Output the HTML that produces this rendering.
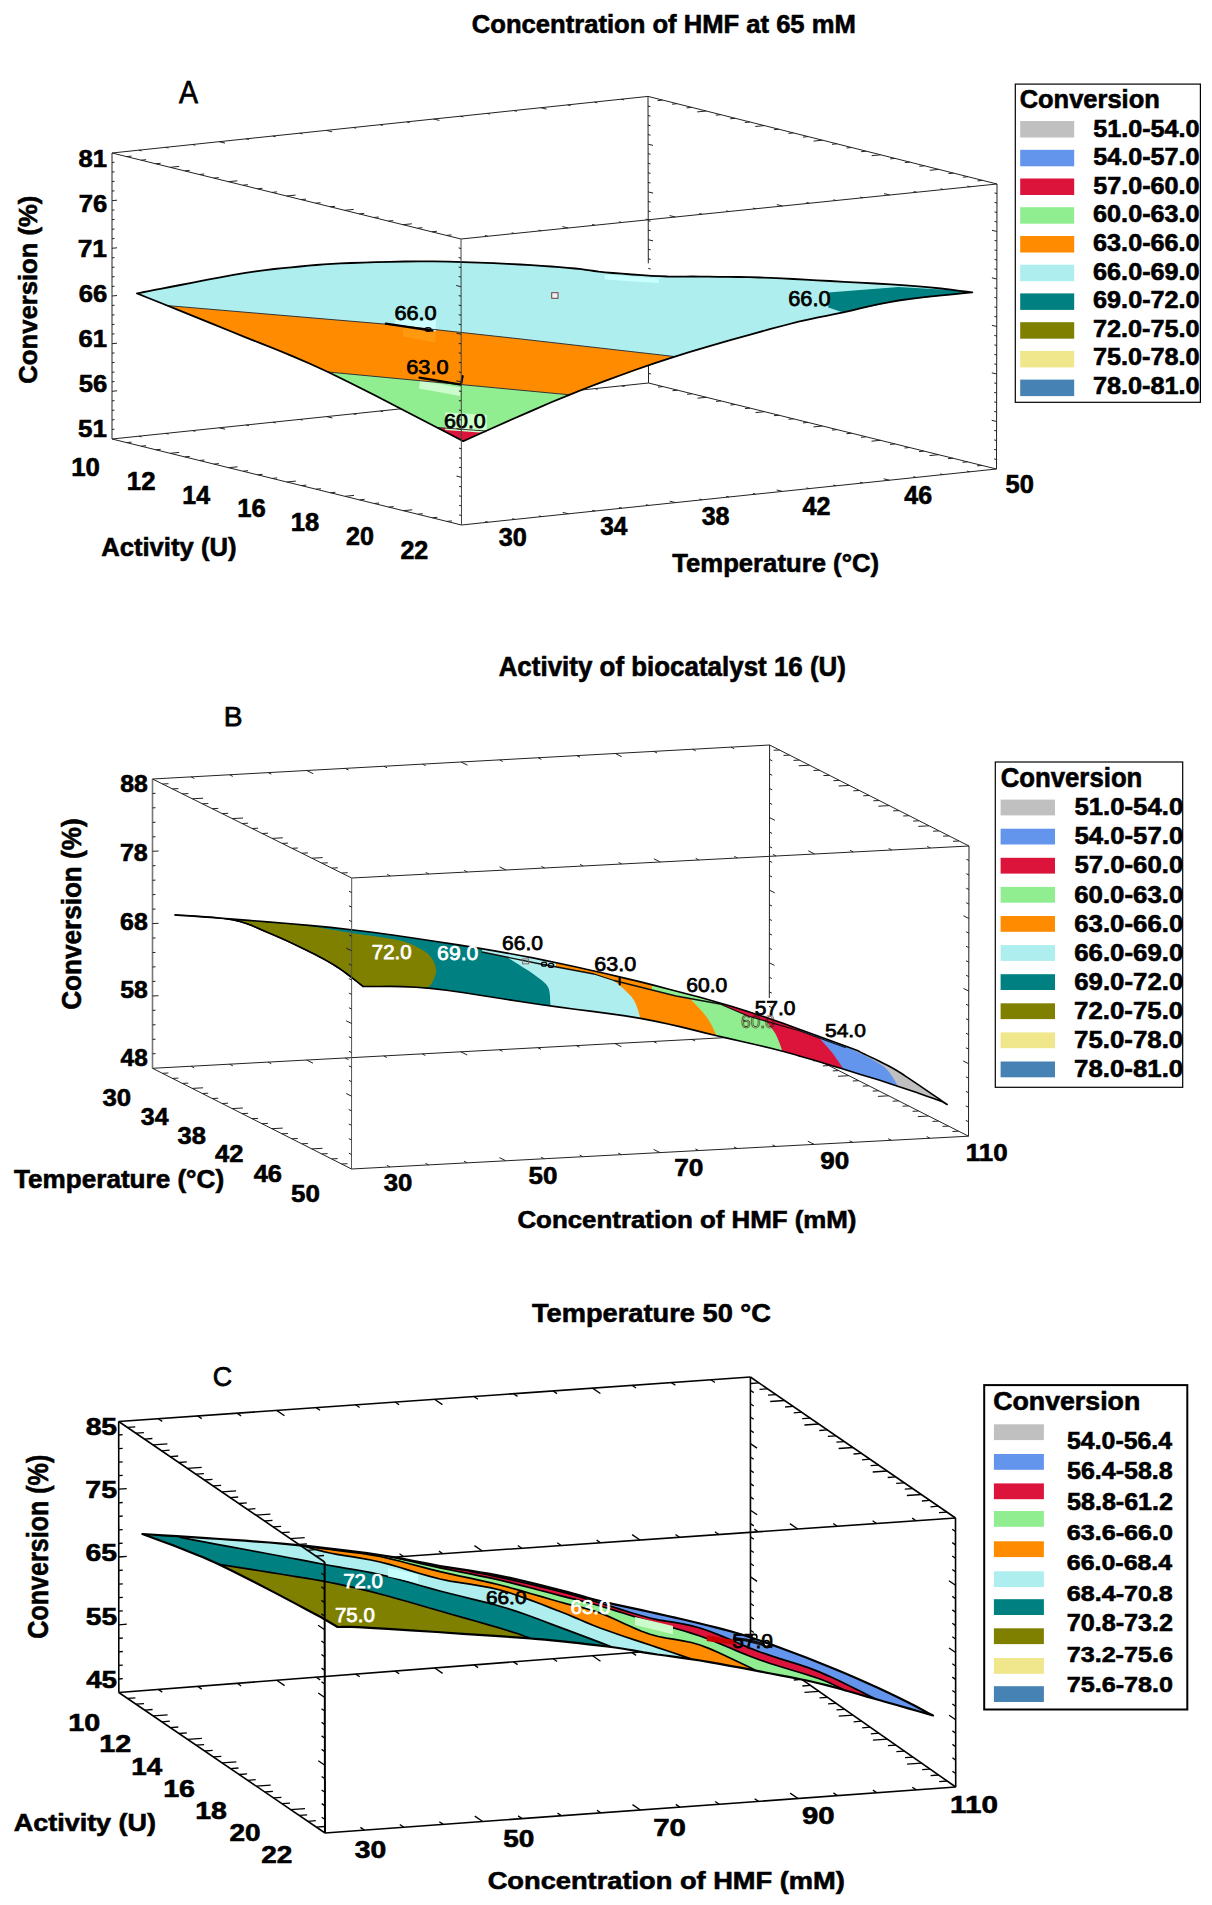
<!DOCTYPE html>
<html><head><meta charset="utf-8"><title>Conversion response surfaces</title>
<style>html,body{margin:0;padding:0;background:#fff;}svg{display:block;font-family:"Liberation Sans",sans-serif;}</style>
</head><body>
<svg width="1212" height="1905" viewBox="0 0 1212 1905">
<rect width="1212" height="1905" fill="#fff"/>
<line x1="112.0" y1="153.0" x2="648.0" y2="96.4" stroke="#222" stroke-width="1"/>
<line x1="648.0" y1="96.4" x2="997.0" y2="184.0" stroke="#222" stroke-width="1"/>
<line x1="112.0" y1="439.0" x2="648.5" y2="383.0" stroke="#222" stroke-width="1"/>
<line x1="648.5" y1="383.0" x2="996.5" y2="469.0" stroke="#222" stroke-width="1"/>
<line x1="648.0" y1="96.4" x2="648.3" y2="263.3" stroke="#222" stroke-width="1"/>
<line x1="648.4" y1="340.0" x2="648.5" y2="383.0" stroke="#222" stroke-width="1"/>
<line x1="112.0" y1="153.0" x2="112.0" y2="439.0" stroke="#222" stroke-width="1"/>
<line x1="997.0" y1="184.0" x2="996.5" y2="469.0" stroke="#222" stroke-width="1"/>
<path d="M662.5 100.1l-5.0 0.5M677.1 103.7l-5.0 0.5M691.6 107.4l-5.0 0.5M706.2 111.0l-9.0 0.9M720.7 114.7l-5.0 0.5M735.2 118.3l-5.0 0.5M749.8 122.0l-5.0 0.5M764.3 125.6l-9.0 0.9M778.9 129.2l-5.0 0.5M793.4 132.9l-5.0 0.5M808.0 136.6l-5.0 0.5M822.5 140.2l-9.0 0.9M837.0 143.8l-5.0 0.5M851.6 147.5l-5.0 0.5M866.1 151.2l-5.0 0.5M880.7 154.8l-9.0 0.9M895.2 158.4l-5.0 0.5M909.8 162.1l-5.0 0.5M924.3 165.8l-5.0 0.5M938.8 169.4l-9.0 0.9M953.4 173.1l-5.0 0.5M967.9 176.7l-5.0 0.5M982.5 180.4l-5.0 0.5" stroke="#222" stroke-width="1" fill="none"/>
<path d="M663.0 386.6l-5.0 0.5M677.5 390.2l-5.0 0.5M692.0 393.8l-5.0 0.5M706.5 397.3l-9.0 0.9M721.0 400.9l-5.0 0.5M735.5 404.5l-5.0 0.5M750.0 408.1l-5.0 0.5M764.5 411.7l-9.0 0.9M779.0 415.2l-5.0 0.5M793.5 418.8l-5.0 0.5M808.0 422.4l-5.0 0.5M822.5 426.0l-9.0 0.9M837.0 429.6l-5.0 0.5M851.5 433.2l-5.0 0.5M866.0 436.8l-5.0 0.5M880.5 440.3l-9.0 0.9M895.0 443.9l-5.0 0.5M909.5 447.5l-5.0 0.5M924.0 451.1l-5.0 0.5M938.5 454.7l-9.0 0.9M953.0 458.2l-5.0 0.5M967.5 461.8l-5.0 0.5M982.0 465.4l-5.0 0.5" stroke="#222" stroke-width="1" fill="none"/>
<path d="M138.8 150.2l2.9 0.7M165.6 147.3l2.9 0.7M192.4 144.5l2.9 0.7M219.2 141.7l5.8 1.4M246.0 138.8l2.9 0.7M272.8 136.0l2.9 0.7M299.6 133.2l2.9 0.7M326.4 130.4l5.8 1.4M353.2 127.5l2.9 0.7M380.0 124.7l2.9 0.7M406.8 121.9l2.9 0.7M433.6 119.0l5.8 1.4M460.4 116.2l2.9 0.7M487.2 113.4l2.9 0.7M514.0 110.6l2.9 0.7M540.8 107.7l5.8 1.4M567.6 104.9l2.9 0.7M594.4 102.1l2.9 0.7M621.2 99.2l2.9 0.7" stroke="#222" stroke-width="1" fill="none"/>
<path d="M138.8 436.2l2.9 0.7M165.7 433.4l2.9 0.7M192.5 430.6l2.9 0.7M219.3 427.8l5.8 1.4M246.1 425.0l2.9 0.7M272.9 422.2l2.9 0.7M299.8 419.4l2.9 0.7M326.6 416.6l5.8 1.4M353.4 413.8l2.9 0.7M380.2 411.0l2.9 0.7M407.1 408.2l2.9 0.7M433.9 405.4l5.8 1.4M460.7 402.6l2.9 0.7M487.5 399.8l2.9 0.7M514.4 397.0l2.9 0.7M541.2 394.2l5.8 1.4M568.0 391.4l2.9 0.7M594.9 388.6l2.9 0.7M621.7 385.8l2.9 0.7" stroke="#222" stroke-width="1" fill="none"/>
<path d="M648.0 106.0l2.4 0.6M648.0 115.5l2.4 0.6M648.0 125.1l2.4 0.6M648.1 134.6l2.4 0.6M648.1 144.2l4.9 1.2M648.1 153.7l2.4 0.6M648.1 163.3l2.4 0.6M648.1 172.8l2.4 0.6M648.1 182.4l2.4 0.6M648.2 191.9l4.9 1.2M648.2 201.5l2.4 0.6M648.2 211.0l2.4 0.6M648.2 220.6l2.4 0.6M648.2 230.1l2.4 0.6M648.2 239.7l4.9 1.2M648.3 249.3l2.4 0.6M648.3 258.8l2.4 0.6M648.3 268.4l2.4 0.6M648.3 277.9l2.4 0.6M648.3 287.5l4.9 1.2M648.4 297.0l2.4 0.6M648.4 306.6l2.4 0.6M648.4 316.1l2.4 0.6M648.4 325.7l2.4 0.6M648.4 335.2l4.9 1.2M648.4 344.8l2.4 0.6M648.5 354.3l2.4 0.6M648.5 363.9l2.4 0.6M648.5 373.4l2.4 0.6" stroke="#222" stroke-width="1" fill="none"/>
<path d="M112.0 162.5l2.5 -0.3M112.0 172.1l2.5 -0.3M112.0 181.6l2.5 -0.3M112.0 191.1l2.5 -0.3M112.0 200.7l5.0 -0.5M112.0 210.2l2.5 -0.3M112.0 219.7l2.5 -0.3M112.0 229.3l2.5 -0.3M112.0 238.8l2.5 -0.3M112.0 248.3l5.0 -0.5M112.0 257.9l2.5 -0.3M112.0 267.4l2.5 -0.3M112.0 276.9l2.5 -0.3M112.0 286.5l2.5 -0.3M112.0 296.0l5.0 -0.5M112.0 305.5l2.5 -0.3M112.0 315.1l2.5 -0.3M112.0 324.6l2.5 -0.3M112.0 334.1l2.5 -0.3M112.0 343.7l5.0 -0.5M112.0 353.2l2.5 -0.3M112.0 362.7l2.5 -0.3M112.0 372.3l2.5 -0.3M112.0 381.8l2.5 -0.3M112.0 391.3l5.0 -0.5M112.0 400.9l2.5 -0.3M112.0 410.4l2.5 -0.3M112.0 419.9l2.5 -0.3M112.0 429.5l2.5 -0.3" stroke="#222" stroke-width="1" fill="none"/>
<path d="M997.0 193.5l-2.4 -0.6M997.0 203.0l-2.4 -0.6M997.0 212.5l-2.4 -0.6M996.9 222.0l-2.4 -0.6M996.9 231.5l-4.9 -1.2M996.9 241.0l-2.4 -0.6M996.9 250.5l-2.4 -0.6M996.9 260.0l-2.4 -0.6M996.9 269.5l-2.4 -0.6M996.8 279.0l-4.9 -1.2M996.8 288.5l-2.4 -0.6M996.8 298.0l-2.4 -0.6M996.8 307.5l-2.4 -0.6M996.8 317.0l-2.4 -0.6M996.8 326.5l-4.9 -1.2M996.7 336.0l-2.4 -0.6M996.7 345.5l-2.4 -0.6M996.7 355.0l-2.4 -0.6M996.7 364.5l-2.4 -0.6M996.7 374.0l-4.9 -1.2M996.6 383.5l-2.4 -0.6M996.6 393.0l-2.4 -0.6M996.6 402.5l-2.4 -0.6M996.6 412.0l-2.4 -0.6M996.6 421.5l-4.9 -1.2M996.6 431.0l-2.4 -0.6M996.5 440.5l-2.4 -0.6M996.5 450.0l-2.4 -0.6M996.5 459.5l-2.4 -0.6" stroke="#222" stroke-width="1" fill="none"/>
<polygon points="137.0,293.4 140.1,292.8 144.0,292.0 148.8,291.1 154.6,289.9 161.7,288.6 170.0,287.0 180.4,285.0 192.8,282.6 206.4,279.9 220.2,277.3 233.5,274.9 245.4,272.9 255.7,271.4 265.3,270.1 274.2,269.0 282.8,268.1 291.3,267.3 300.0,266.5 308.3,265.7 316.1,265.0 323.8,264.4 331.8,263.9 340.7,263.4 351.0,263.0 362.9,262.6 376.0,262.2 390.0,261.8 404.5,261.5 419.2,261.4 433.5,261.4 448.0,261.6 463.2,262.1 478.5,262.6 493.4,263.2 507.4,263.9 520.0,264.5 531.3,265.1 541.6,265.8 551.0,266.5 559.7,267.1 567.6,267.8 575.0,268.5 581.2,269.1 585.9,269.8 590.0,270.4 594.1,271.0 598.8,271.7 605.0,272.3 612.9,273.0 622.0,273.7 631.9,274.5 641.9,275.2 651.4,275.8 660.0,276.2 667.3,276.5 673.7,276.6 679.7,276.6 685.7,276.6 692.3,276.5 700.0,276.6 708.7,276.7 718.1,276.8 728.1,276.9 738.5,277.0 749.2,277.2 760.0,277.5 770.9,277.9 781.9,278.4 793.2,279.0 804.9,279.6 817.2,280.3 830.0,281.0 844.1,281.8 859.4,282.6 875.2,283.5 890.8,284.4 905.5,285.3 918.4,286.3 930.0,287.3 940.9,288.5 950.9,289.7 959.6,290.8 966.8,291.7 972.3,292.4 972.3,292.4 964.1,293.2 952.5,294.4 938.9,295.7 924.5,297.2 910.7,298.8 898.6,300.5 888.3,302.3 878.9,304.2 869.9,306.2 861.1,308.2 852.3,310.3 843.2,312.4 834.4,314.2 826.3,315.8 818.2,317.4 809.2,319.3 798.6,321.7 785.7,325.0 769.7,329.2 751.2,334.3 731.1,339.9 710.4,345.8 690.0,351.9 671.0,357.8 653.4,363.6 636.3,369.5 619.7,375.5 603.1,381.6 586.4,388.0 569.4,394.8 550.7,402.5 530.4,411.3 509.9,420.3 490.9,428.8 474.8,436.0 463.2,441.2 448.1,433.3 426.8,422.2 401.7,409.2 375.3,395.5 349.9,382.7 328.0,372.0 309.5,363.5 292.4,356.1 276.4,349.5 260.9,343.4 245.6,337.3 230.0,331.0 213.1,324.1 195.2,316.8 177.4,309.6 160.9,303.0 147.1,297.5" fill="#afeeee" stroke="none" stroke-width="0" stroke-linejoin="round"/>
<polygon points="166.0,305.5 384.0,324.0 520.0,338.9 673.4,356.4 671.0,357.8 569.4,394.8 463.2,441.2 328.0,372.0 230.0,331.0" fill="#ff8c00" stroke="none" stroke-width="0" stroke-linejoin="round"/>
<polygon points="328.0,372.0 440.0,382.6 569.4,394.8 463.2,441.2" fill="#90ee90" stroke="none" stroke-width="0" stroke-linejoin="round"/>
<polygon points="437.0,427.5 486.0,431.0 463.2,441.2" fill="#dc143c" stroke="none" stroke-width="0" stroke-linejoin="round"/>
<polygon points="828.3,292.6 898.6,287.1 958.0,290.6 972.3,292.4 898.6,300.5 843.2,312.4 828.3,307.5" fill="#008080" stroke="none" stroke-width="0" stroke-linejoin="round"/>
<polygon points="395.2,319.5 435.8,319.5 435.8,331.5 395.2,325.2" fill="#ccffff" stroke="none" stroke-width="0" stroke-linejoin="round"/>
<polygon points="403.0,327.7 436.0,333.0 435.0,342.5 403.0,336.5" fill="#ff9a10" stroke="none" stroke-width="0" stroke-linejoin="round"/>
<polygon points="420.0,380.5 461.0,387.5 460.0,396.0 419.0,388.5" fill="#ccfccc" stroke="none" stroke-width="0" stroke-linejoin="round"/>
<polygon points="445.2,412.3 486.8,415.0 486.8,433.0 445.2,430.0" fill="#ccffcc" stroke="none" stroke-width="0" stroke-linejoin="round"/>
<polyline points="166.0,305.5 384.0,324.0 520.0,338.9 673.4,356.4" fill="none" stroke="#333" stroke-width="1" stroke-linejoin="round" stroke-linecap="round"/>
<polyline points="328.0,372.0 440.0,382.6 569.4,394.8" fill="none" stroke="#333" stroke-width="1" stroke-linejoin="round" stroke-linecap="round"/>
<polyline points="437.0,427.5 486.0,431.0" fill="none" stroke="#333" stroke-width="1" stroke-linejoin="round" stroke-linecap="round"/>
<polyline points="385.8,323.7 432.4,330.6" fill="none" stroke="#000" stroke-width="2.2" stroke-linejoin="round" stroke-linecap="round"/>
<ellipse cx="428" cy="329.5" rx="3" ry="1.8" fill="none" stroke="#000" stroke-width="1.2"/>
<polyline points="419.5,377.7 461.0,384.6 462.6,376.2" fill="none" stroke="#000" stroke-width="2.2" stroke-linejoin="round" stroke-linecap="round"/>
<polygon points="137.0,293.4 140.1,292.8 144.0,292.0 148.8,291.1 154.6,289.9 161.7,288.6 170.0,287.0 180.4,285.0 192.8,282.6 206.4,279.9 220.2,277.3 233.5,274.9 245.4,272.9 255.7,271.4 265.3,270.1 274.2,269.0 282.8,268.1 291.3,267.3 300.0,266.5 308.3,265.7 316.1,265.0 323.8,264.4 331.8,263.9 340.7,263.4 351.0,263.0 362.9,262.6 376.0,262.2 390.0,261.8 404.5,261.5 419.2,261.4 433.5,261.4 448.0,261.6 463.2,262.1 478.5,262.6 493.4,263.2 507.4,263.9 520.0,264.5 531.3,265.1 541.6,265.8 551.0,266.5 559.7,267.1 567.6,267.8 575.0,268.5 581.2,269.1 585.9,269.8 590.0,270.4 594.1,271.0 598.8,271.7 605.0,272.3 612.9,273.0 622.0,273.7 631.9,274.5 641.9,275.2 651.4,275.8 660.0,276.2 667.3,276.5 673.7,276.6 679.7,276.6 685.7,276.6 692.3,276.5 700.0,276.6 708.7,276.7 718.1,276.8 728.1,276.9 738.5,277.0 749.2,277.2 760.0,277.5 770.9,277.9 781.9,278.4 793.2,279.0 804.9,279.6 817.2,280.3 830.0,281.0 844.1,281.8 859.4,282.6 875.2,283.5 890.8,284.4 905.5,285.3 918.4,286.3 930.0,287.3 940.9,288.5 950.9,289.7 959.6,290.8 966.8,291.7 972.3,292.4 972.3,292.4 964.1,293.2 952.5,294.4 938.9,295.7 924.5,297.2 910.7,298.8 898.6,300.5 888.3,302.3 878.9,304.2 869.9,306.2 861.1,308.2 852.3,310.3 843.2,312.4 834.4,314.2 826.3,315.8 818.2,317.4 809.2,319.3 798.6,321.7 785.7,325.0 769.7,329.2 751.2,334.3 731.1,339.9 710.4,345.8 690.0,351.9 671.0,357.8 653.4,363.6 636.3,369.5 619.7,375.5 603.1,381.6 586.4,388.0 569.4,394.8 550.7,402.5 530.4,411.3 509.9,420.3 490.9,428.8 474.8,436.0 463.2,441.2 448.1,433.3 426.8,422.2 401.7,409.2 375.3,395.5 349.9,382.7 328.0,372.0 309.5,363.5 292.4,356.1 276.4,349.5 260.9,343.4 245.6,337.3 230.0,331.0 213.1,324.1 195.2,316.8 177.4,309.6 160.9,303.0 147.1,297.5" fill="none" stroke="#000" stroke-width="1.8" stroke-linejoin="round"/>
<rect x="551.7" y="292.7" width="6.3" height="5.6" fill="#e8f4f4" stroke="#7a3a3a" stroke-width="1"/>
<polygon points="604.7,274.4 658.8,278.5 658.8,283.0 604.7,279.5" fill="#c8ffff" stroke="none" stroke-width="0" stroke-linejoin="round"/>
<text x="394.40" y="319.50" font-size="19.48" font-weight="normal" fill="#000" textLength="42.25" lengthAdjust="spacingAndGlyphs" stroke="#000" stroke-width="0.75">66.0</text>
<text x="406.30" y="373.70" font-size="20.48" font-weight="normal" fill="#000" textLength="42.25" lengthAdjust="spacingAndGlyphs" stroke="#000" stroke-width="0.75">63.0</text>
<text x="444.11" y="428.20" font-size="19.91" font-weight="normal" fill="#000" textLength="41.62" lengthAdjust="spacingAndGlyphs" stroke="#000" stroke-width="0.75">60.0</text>
<text x="788.19" y="305.50" font-size="21.34" font-weight="normal" fill="#000" textLength="42.36" lengthAdjust="spacingAndGlyphs" stroke="#000" stroke-width="0.75">66.0</text>
<line x1="112.0" y1="153.0" x2="461.0" y2="239.0" stroke="#222" stroke-width="1"/>
<line x1="461.0" y1="239.0" x2="997.0" y2="184.0" stroke="#222" stroke-width="1"/>
<line x1="112.0" y1="439.0" x2="461.5" y2="525.0" stroke="#222" stroke-width="1"/>
<line x1="461.5" y1="525.0" x2="996.5" y2="469.0" stroke="#222" stroke-width="1"/>
<line x1="461.0" y1="239.0" x2="461.5" y2="525.0" stroke="#444" stroke-width="1"/>
<path d="M126.5 156.6l5.0 -0.5M141.1 160.2l5.0 -0.5M155.6 163.8l5.0 -0.5M170.2 167.3l9.0 -0.9M184.7 170.9l5.0 -0.5M199.2 174.5l5.0 -0.5M213.8 178.1l5.0 -0.5M228.3 181.7l9.0 -0.9M242.9 185.2l5.0 -0.5M257.4 188.8l5.0 -0.5M272.0 192.4l5.0 -0.5M286.5 196.0l9.0 -0.9M301.0 199.6l5.0 -0.5M315.6 203.2l5.0 -0.5M330.1 206.8l5.0 -0.5M344.7 210.3l9.0 -0.9M359.2 213.9l5.0 -0.5M373.8 217.5l5.0 -0.5M388.3 221.1l5.0 -0.5M402.8 224.7l9.0 -0.9M417.4 228.2l5.0 -0.5M431.9 231.8l5.0 -0.5M446.5 235.4l5.0 -0.5" stroke="#222" stroke-width="1" fill="none"/>
<path d="M126.6 442.6l5.0 -0.5M141.1 446.2l5.0 -0.5M155.7 449.8l5.0 -0.5M170.2 453.3l9.0 -0.9M184.8 456.9l5.0 -0.5M199.4 460.5l5.0 -0.5M213.9 464.1l5.0 -0.5M228.5 467.7l9.0 -0.9M243.1 471.2l5.0 -0.5M257.6 474.8l5.0 -0.5M272.2 478.4l5.0 -0.5M286.8 482.0l9.0 -0.9M301.3 485.6l5.0 -0.5M315.9 489.2l5.0 -0.5M330.4 492.8l5.0 -0.5M345.0 496.3l9.0 -0.9M359.6 499.9l5.0 -0.5M374.1 503.5l5.0 -0.5M388.7 507.1l5.0 -0.5M403.2 510.7l9.0 -0.9M417.8 514.2l5.0 -0.5M432.4 517.8l5.0 -0.5M446.9 521.4l5.0 -0.5" stroke="#222" stroke-width="1" fill="none"/>
<path d="M487.8 236.2l-2.9 -0.7M514.6 233.5l-2.9 -0.7M541.4 230.8l-2.9 -0.7M568.2 228.0l-5.8 -1.4M595.0 225.2l-2.9 -0.7M621.8 222.5l-2.9 -0.7M648.6 219.8l-2.9 -0.7M675.4 217.0l-5.8 -1.4M702.2 214.2l-2.9 -0.7M729.0 211.5l-2.9 -0.7M755.8 208.8l-2.9 -0.7M782.6 206.0l-5.8 -1.4M809.4 203.2l-2.9 -0.7M836.2 200.5l-2.9 -0.7M863.0 197.8l-2.9 -0.7M889.8 195.0l-5.8 -1.4M916.6 192.2l-2.9 -0.7M943.4 189.5l-2.9 -0.7M970.2 186.8l-2.9 -0.7" stroke="#222" stroke-width="1" fill="none"/>
<path d="M488.2 522.2l-2.9 -0.7M515.0 519.4l-2.9 -0.7M541.8 516.6l-2.9 -0.7M568.5 513.8l-5.8 -1.4M595.2 511.0l-2.9 -0.7M622.0 508.2l-2.9 -0.7M648.8 505.4l-2.9 -0.7M675.5 502.6l-5.8 -1.4M702.2 499.8l-2.9 -0.7M729.0 497.0l-2.9 -0.7M755.8 494.2l-2.9 -0.7M782.5 491.4l-5.8 -1.4M809.2 488.6l-2.9 -0.7M836.0 485.8l-2.9 -0.7M862.8 483.0l-2.9 -0.7M889.5 480.2l-5.8 -1.4M916.2 477.4l-2.9 -0.7M943.0 474.6l-2.9 -0.7M969.8 471.8l-2.9 -0.7" stroke="#222" stroke-width="1" fill="none"/>
<path d="M461.0 248.5l-2.4 -0.6M461.0 258.1l-2.4 -0.6M461.1 267.6l-2.4 -0.6M461.1 277.1l-2.4 -0.6M461.1 286.7l-4.9 -1.2M461.1 296.2l-2.4 -0.6M461.1 305.7l-2.4 -0.6M461.1 315.3l-2.4 -0.6M461.1 324.8l-2.4 -0.6M461.2 334.3l-4.9 -1.2M461.2 343.9l-2.4 -0.6M461.2 353.4l-2.4 -0.6M461.2 362.9l-2.4 -0.6M461.2 372.5l-2.4 -0.6M461.2 382.0l-4.9 -1.2M461.3 391.5l-2.4 -0.6M461.3 401.1l-2.4 -0.6M461.3 410.6l-2.4 -0.6M461.3 420.1l-2.4 -0.6M461.3 429.7l-4.9 -1.2M461.4 439.2l-2.4 -0.6M461.4 448.7l-2.4 -0.6M461.4 458.3l-2.4 -0.6M461.4 467.8l-2.4 -0.6M461.4 477.3l-4.9 -1.2M461.4 486.9l-2.4 -0.6M461.4 496.4l-2.4 -0.6M461.5 505.9l-2.4 -0.6M461.5 515.5l-2.4 -0.6" stroke="#222" stroke-width="1" fill="none"/>
<text x="471.85" y="32.70" font-size="25.58" font-weight="bold" fill="#000" textLength="383.96" lengthAdjust="spacingAndGlyphs" stroke="#000" stroke-width="0.60">Concentration of HMF at 65 mM</text>
<text x="179.04" y="102.60" font-size="31.69" font-weight="normal" fill="#000" textLength="19.01" lengthAdjust="spacingAndGlyphs" stroke="#000" stroke-width="0.75">A</text>
<text x="78.51" y="167.47" font-size="23.73" font-weight="bold" fill="#000" textLength="28.50" lengthAdjust="spacingAndGlyphs" stroke="#000" stroke-width="0.60">81</text>
<text x="78.72" y="212.27" font-size="23.73" font-weight="bold" fill="#000" textLength="28.50" lengthAdjust="spacingAndGlyphs" stroke="#000" stroke-width="0.60">76</text>
<text x="77.70" y="256.86" font-size="24.07" font-weight="bold" fill="#000" textLength="29.33" lengthAdjust="spacingAndGlyphs" stroke="#000" stroke-width="0.60">71</text>
<text x="78.72" y="301.77" font-size="23.73" font-weight="bold" fill="#000" textLength="28.50" lengthAdjust="spacingAndGlyphs" stroke="#000" stroke-width="0.60">66</text>
<text x="78.51" y="347.17" font-size="23.73" font-weight="bold" fill="#000" textLength="28.50" lengthAdjust="spacingAndGlyphs" stroke="#000" stroke-width="0.60">61</text>
<text x="78.72" y="391.67" font-size="23.73" font-weight="bold" fill="#000" textLength="28.50" lengthAdjust="spacingAndGlyphs" stroke="#000" stroke-width="0.60">56</text>
<text x="78.10" y="437.46" font-size="24.08" font-weight="bold" fill="#000" textLength="28.92" lengthAdjust="spacingAndGlyphs" stroke="#000" stroke-width="0.60">51</text>
<text x="71.28" y="476.36" font-size="24.86" font-weight="bold" fill="#000" textLength="28.68" lengthAdjust="spacingAndGlyphs" stroke="#000" stroke-width="0.60">10</text>
<text x="126.88" y="490.05" font-size="24.85" font-weight="bold" fill="#000" textLength="28.65" lengthAdjust="spacingAndGlyphs" stroke="#000" stroke-width="0.60">12</text>
<text x="182.33" y="503.95" font-size="25.22" font-weight="bold" fill="#000" textLength="27.70" lengthAdjust="spacingAndGlyphs" stroke="#000" stroke-width="0.60">14</text>
<text x="237.18" y="517.06" font-size="24.86" font-weight="bold" fill="#000" textLength="28.54" lengthAdjust="spacingAndGlyphs" stroke="#000" stroke-width="0.60">16</text>
<text x="290.79" y="531.16" font-size="24.86" font-weight="bold" fill="#000" textLength="28.39" lengthAdjust="spacingAndGlyphs" stroke="#000" stroke-width="0.60">18</text>
<text x="346.03" y="544.96" font-size="24.86" font-weight="bold" fill="#000" textLength="27.90" lengthAdjust="spacingAndGlyphs" stroke="#000" stroke-width="0.60">20</text>
<text x="400.43" y="559.35" font-size="24.85" font-weight="bold" fill="#000" textLength="27.87" lengthAdjust="spacingAndGlyphs" stroke="#000" stroke-width="0.60">22</text>
<text x="498.67" y="546.46" font-size="24.86" font-weight="bold" fill="#000" textLength="28.12" lengthAdjust="spacingAndGlyphs" stroke="#000" stroke-width="0.60">30</text>
<text x="600.19" y="535.36" font-size="24.86" font-weight="bold" fill="#000" textLength="27.19" lengthAdjust="spacingAndGlyphs" stroke="#000" stroke-width="0.60">34</text>
<text x="701.68" y="525.06" font-size="24.86" font-weight="bold" fill="#000" textLength="27.84" lengthAdjust="spacingAndGlyphs" stroke="#000" stroke-width="0.60">38</text>
<text x="802.57" y="514.55" font-size="24.85" font-weight="bold" fill="#000" textLength="27.88" lengthAdjust="spacingAndGlyphs" stroke="#000" stroke-width="0.60">42</text>
<text x="904.27" y="504.46" font-size="24.86" font-weight="bold" fill="#000" textLength="27.78" lengthAdjust="spacingAndGlyphs" stroke="#000" stroke-width="0.60">46</text>
<text x="1005.47" y="492.56" font-size="24.86" font-weight="bold" fill="#000" textLength="28.33" lengthAdjust="spacingAndGlyphs" stroke="#000" stroke-width="0.60">50</text>
<text x="101.16" y="556.22" font-size="26.39" font-weight="bold" fill="#000" textLength="135.32" lengthAdjust="spacingAndGlyphs" stroke="#000" stroke-width="0.60">Activity (U)</text>
<text x="672.21" y="572.17" font-size="26.18" font-weight="bold" fill="#000" textLength="206.85" lengthAdjust="spacingAndGlyphs" stroke="#000" stroke-width="0.60">Temperature (°C)</text>
<text x="0" y="0" stroke="#000" stroke-width="0.60" font-size="26.18" font-weight="bold" fill="#000" textLength="187.93" lengthAdjust="spacingAndGlyphs" transform="translate(36.57 383.65) rotate(-90)">Conversion (%)</text>
<rect x="1015.3" y="84.1" width="185.1" height="318.2" fill="#fff" stroke="#000" stroke-width="1.2"/>
<text x="1019.66" y="108.40" font-size="25.58" font-weight="bold" fill="#000" textLength="140.12" lengthAdjust="spacingAndGlyphs" stroke="#000" stroke-width="0.60">Conversion</text>
<rect x="1020.2" y="121.0" width="54.0" height="16.5" fill="#c0c0c0"/>
<rect x="1020.2" y="149.8" width="54.0" height="16.5" fill="#6495ed"/>
<rect x="1020.2" y="178.5" width="54.0" height="16.5" fill="#dc143c"/>
<rect x="1020.2" y="207.2" width="54.0" height="16.5" fill="#90ee90"/>
<rect x="1020.2" y="236.0" width="54.0" height="16.5" fill="#ff8c00"/>
<rect x="1020.2" y="264.7" width="54.0" height="16.5" fill="#afeeee"/>
<rect x="1020.2" y="293.4" width="54.0" height="16.5" fill="#008080"/>
<rect x="1020.2" y="322.2" width="54.0" height="16.5" fill="#808000"/>
<rect x="1020.2" y="350.9" width="54.0" height="16.5" fill="#f0e68c"/>
<rect x="1020.2" y="379.6" width="54.0" height="16.5" fill="#4682b4"/>
<text x="1093.23" y="136.50" font-size="23.92" font-weight="bold" fill="#000" textLength="106.41" lengthAdjust="spacingAndGlyphs" stroke="#000" stroke-width="0.60">51.0-54.0</text>
<text x="1093.23" y="165.10" font-size="23.92" font-weight="bold" fill="#000" textLength="106.41" lengthAdjust="spacingAndGlyphs" stroke="#000" stroke-width="0.60">54.0-57.0</text>
<text x="1093.23" y="193.70" font-size="23.92" font-weight="bold" fill="#000" textLength="106.41" lengthAdjust="spacingAndGlyphs" stroke="#000" stroke-width="0.60">57.0-60.0</text>
<text x="1093.08" y="222.30" font-size="23.92" font-weight="bold" fill="#000" textLength="106.56" lengthAdjust="spacingAndGlyphs" stroke="#000" stroke-width="0.60">60.0-63.0</text>
<text x="1093.08" y="250.90" font-size="23.92" font-weight="bold" fill="#000" textLength="106.56" lengthAdjust="spacingAndGlyphs" stroke="#000" stroke-width="0.60">63.0-66.0</text>
<text x="1093.08" y="279.50" font-size="23.92" font-weight="bold" fill="#000" textLength="106.56" lengthAdjust="spacingAndGlyphs" stroke="#000" stroke-width="0.60">66.0-69.0</text>
<text x="1093.08" y="308.10" font-size="23.92" font-weight="bold" fill="#000" textLength="106.56" lengthAdjust="spacingAndGlyphs" stroke="#000" stroke-width="0.60">69.0-72.0</text>
<text x="1092.91" y="336.70" font-size="23.92" font-weight="bold" fill="#000" textLength="106.72" lengthAdjust="spacingAndGlyphs" stroke="#000" stroke-width="0.60">72.0-75.0</text>
<text x="1092.91" y="365.30" font-size="23.92" font-weight="bold" fill="#000" textLength="106.72" lengthAdjust="spacingAndGlyphs" stroke="#000" stroke-width="0.60">75.0-78.0</text>
<text x="1092.91" y="393.90" font-size="23.92" font-weight="bold" fill="#000" textLength="106.72" lengthAdjust="spacingAndGlyphs" stroke="#000" stroke-width="0.60">78.0-81.0</text>
<line x1="152.5" y1="779.0" x2="769.6" y2="745.0" stroke="#222" stroke-width="1"/>
<line x1="769.6" y1="745.0" x2="969.0" y2="846.0" stroke="#222" stroke-width="1"/>
<line x1="152.5" y1="1068.3" x2="769.0" y2="1035.3" stroke="#222" stroke-width="1"/>
<line x1="769.0" y1="1035.3" x2="968.5" y2="1136.2" stroke="#222" stroke-width="1"/>
<line x1="769.6" y1="745.0" x2="769.3" y2="998.0" stroke="#222" stroke-width="1"/>
<line x1="152.5" y1="779.0" x2="152.5" y2="1068.3" stroke="#777" stroke-width="1.6"/>
<line x1="969.0" y1="846.0" x2="968.5" y2="1136.2" stroke="#222" stroke-width="1"/>
<path d="M779.6 750.0l-6.0 0.3M789.5 755.1l-6.0 0.3M799.5 760.1l-6.0 0.3M809.5 765.2l-10.8 0.6M819.5 770.2l-6.0 0.3M829.4 775.3l-6.0 0.3M839.4 780.4l-6.0 0.3M849.4 785.4l-10.8 0.6M859.3 790.5l-6.0 0.3M869.3 795.5l-6.0 0.3M879.3 800.5l-6.0 0.3M889.2 805.6l-10.8 0.6M899.2 810.6l-6.0 0.3M909.2 815.7l-6.0 0.3M919.1 820.8l-6.0 0.3M929.1 825.8l-10.8 0.6M939.1 830.9l-6.0 0.3M949.1 835.9l-6.0 0.3M959.0 841.0l-6.0 0.3" stroke="#222" stroke-width="1" fill="none"/>
<path d="M779.0 1040.3l-6.0 0.3M789.0 1045.4l-6.0 0.3M798.9 1050.4l-6.0 0.3M808.9 1055.5l-10.8 0.6M818.9 1060.5l-6.0 0.3M828.9 1065.6l-6.0 0.3M838.8 1070.6l-6.0 0.3M848.8 1075.7l-10.8 0.6M858.8 1080.7l-6.0 0.3M868.8 1085.8l-6.0 0.3M878.7 1090.8l-6.0 0.3M888.7 1095.8l-10.8 0.6M898.7 1100.9l-6.0 0.3M908.6 1105.9l-6.0 0.3M918.6 1111.0l-6.0 0.3M928.6 1116.0l-10.8 0.6M938.6 1121.1l-6.0 0.3M948.5 1126.1l-6.0 0.3M958.5 1131.2l-6.0 0.3" stroke="#222" stroke-width="1" fill="none"/>
<path d="M191.1 776.9l3.2 1.6M229.6 774.8l3.2 1.6M268.2 772.6l3.2 1.6M306.8 770.5l6.4 3.2M345.3 768.4l3.2 1.6M383.9 766.2l3.2 1.6M422.5 764.1l3.2 1.6M461.1 762.0l6.4 3.2M499.6 759.9l3.2 1.6M538.2 757.8l3.2 1.6M576.8 755.6l3.2 1.6M615.3 753.5l6.4 3.2M653.9 751.4l3.2 1.6M692.5 749.2l3.2 1.6M731.0 747.1l3.2 1.6" stroke="#222" stroke-width="1" fill="none"/>
<path d="M191.0 1066.2l3.2 1.6M229.6 1064.2l3.2 1.6M268.1 1062.1l3.2 1.6M306.6 1060.0l6.4 3.2M345.2 1058.0l3.2 1.6M383.7 1055.9l3.2 1.6M422.2 1053.9l3.2 1.6M460.8 1051.8l6.4 3.2M499.3 1049.7l3.2 1.6M537.8 1047.7l3.2 1.6M576.3 1045.6l3.2 1.6M614.9 1043.5l6.4 3.2M653.4 1041.5l3.2 1.6M691.9 1039.4l3.2 1.6M730.5 1037.4l3.2 1.6" stroke="#222" stroke-width="1" fill="none"/>
<path d="M769.6 759.5l2.7 1.3M769.5 774.0l2.7 1.3M769.5 788.5l2.7 1.3M769.5 803.1l2.7 1.3M769.5 817.6l5.4 2.7M769.4 832.1l2.7 1.3M769.4 846.6l2.7 1.3M769.4 861.1l2.7 1.3M769.3 875.6l2.7 1.3M769.3 890.1l5.4 2.7M769.3 904.7l2.7 1.3M769.2 919.2l2.7 1.3M769.2 933.7l2.7 1.3M769.2 948.2l2.7 1.3M769.1 962.7l5.4 2.7M769.1 977.2l2.7 1.3M769.1 991.8l2.7 1.3M769.1 1006.3l2.7 1.3M769.0 1020.8l2.7 1.3" stroke="#222" stroke-width="1" fill="none"/>
<path d="M152.5 793.5l3.0 -0.2M152.5 807.9l3.0 -0.2M152.5 822.4l3.0 -0.2M152.5 836.9l3.0 -0.2M152.5 851.3l6.0 -0.3M152.5 865.8l3.0 -0.2M152.5 880.3l3.0 -0.2M152.5 894.7l3.0 -0.2M152.5 909.2l3.0 -0.2M152.5 923.6l6.0 -0.3M152.5 938.1l3.0 -0.2M152.5 952.6l3.0 -0.2M152.5 967.0l3.0 -0.2M152.5 981.5l3.0 -0.2M152.5 996.0l6.0 -0.3M152.5 1010.4l3.0 -0.2M152.5 1024.9l3.0 -0.2M152.5 1039.4l3.0 -0.2M152.5 1053.8l3.0 -0.2" stroke="#222" stroke-width="1" fill="none"/>
<path d="M969.0 860.5l-2.7 -1.3M969.0 875.0l-2.7 -1.3M968.9 889.5l-2.7 -1.3M968.9 904.0l-2.7 -1.3M968.9 918.5l-5.4 -2.7M968.9 933.1l-2.7 -1.3M968.8 947.6l-2.7 -1.3M968.8 962.1l-2.7 -1.3M968.8 976.6l-2.7 -1.3M968.8 991.1l-5.4 -2.7M968.7 1005.6l-2.7 -1.3M968.7 1020.1l-2.7 -1.3M968.7 1034.6l-2.7 -1.3M968.6 1049.1l-2.7 -1.3M968.6 1063.7l-5.4 -2.7M968.6 1078.2l-2.7 -1.3M968.6 1092.7l-2.7 -1.3M968.5 1107.2l-2.7 -1.3M968.5 1121.7l-2.7 -1.3" stroke="#222" stroke-width="1" fill="none"/>
<polygon points="175.0,915.0 180.6,915.4 187.7,915.8 196.4,916.4 206.7,917.1 218.8,918.0 232.6,919.1 248.8,920.4 267.4,921.9 287.8,923.5 309.0,925.4 330.5,927.4 351.4,929.7 372.4,932.3 394.3,935.3 416.3,938.5 437.9,941.7 458.3,944.9 476.8,947.9 493.0,950.6 507.2,953.1 520.3,955.5 533.0,957.9 546.0,960.6 560.0,963.5 575.1,966.7 590.6,970.2 606.5,973.8 622.5,977.6 638.5,981.4 654.3,985.4 669.9,989.4 685.4,993.4 700.9,997.6 716.4,1001.9 732.1,1006.5 747.9,1011.4 764.8,1017.0 783.0,1023.3 801.3,1029.9 818.6,1036.2 833.6,1041.7 845.3,1046.0 852.7,1048.7 856.7,1050.2 858.5,1051.0 859.3,1051.5 860.5,1052.1 863.2,1053.5 867.6,1055.6 872.6,1057.9 877.9,1060.5 883.2,1063.2 888.3,1065.8 892.9,1068.3 896.7,1070.5 900.0,1072.5 903.1,1074.5 906.2,1076.6 909.6,1078.9 913.7,1081.7 918.9,1085.2 925.1,1089.4 931.7,1093.9 938.0,1098.2 943.3,1101.9 947.1,1104.5 941.7,1101.4 934.3,1098.8 925.5,1095.7 915.9,1092.3 906.1,1089.0 896.9,1085.9 888.0,1083.0 879.0,1080.1 869.8,1077.2 860.4,1074.4 851.0,1071.5 841.5,1068.6 832.0,1065.7 822.4,1062.8 812.7,1059.8 802.8,1056.9 792.8,1054.1 782.5,1051.3 772.0,1048.6 761.5,1046.0 750.7,1043.5 739.7,1041.0 728.3,1038.4 716.7,1035.7 704.9,1032.9 693.0,1029.9 680.8,1026.9 668.1,1024.0 654.7,1021.1 640.5,1018.4 625.3,1015.9 609.1,1013.6 592.3,1011.4 575.1,1009.2 557.5,1006.9 540.0,1004.5 521.8,1001.8 502.6,998.8 483.2,995.7 464.3,992.8 446.5,990.3 430.6,988.4 416.1,987.2 402.5,986.6 390.0,986.4 379.0,986.5 369.9,986.5 363.0,986.5 360.4,984.4 356.8,981.5 352.5,978.1 347.7,974.5 342.9,970.9 338.2,967.7 333.6,964.8 329.0,962.1 324.3,959.4 319.3,956.7 314.1,954.0 308.5,951.2 302.4,948.2 295.9,945.1 289.1,941.9 282.2,938.8 275.4,935.8 268.9,933.0 262.9,930.4 257.3,927.9 251.9,925.6 246.2,923.4 239.8,921.5 232.6,919.8 223.6,918.5 212.8,917.4 201.5,916.6 190.7,915.9 181.5,915.4" fill="#c0c0c0" stroke="none" stroke-width="0" stroke-linejoin="round"/>
<polygon points="175.0,915.0 180.6,915.4 187.7,915.8 196.4,916.4 206.7,917.1 218.8,918.0 232.6,919.1 248.8,920.4 267.4,921.9 287.8,923.5 309.0,925.4 330.5,927.4 351.4,929.7 372.4,932.3 394.3,935.3 416.3,938.5 437.9,941.7 458.3,944.9 476.8,947.9 493.0,950.6 507.2,953.1 520.3,955.5 533.0,957.9 546.0,960.6 560.0,963.5 575.1,966.7 590.6,970.2 606.5,973.8 622.5,977.6 638.5,981.4 654.3,985.4 669.9,989.4 685.4,993.4 700.9,997.6 716.4,1001.9 732.1,1006.5 747.9,1011.4 764.8,1017.0 783.0,1023.3 801.3,1029.9 818.6,1036.2 833.6,1041.7 845.3,1046.0 851.3,1049.0 855.1,1050.9 860.4,1053.5 866.7,1056.6 873.2,1060.0 879.2,1063.5 884.0,1066.8 887.7,1070.3 890.8,1074.3 893.4,1078.3 895.6,1082.1 897.4,1085.3 898.8,1087.6 896.9,1085.9 888.0,1083.0 879.0,1080.1 869.8,1077.2 860.4,1074.4 851.0,1071.5 841.5,1068.6 832.0,1065.7 822.4,1062.8 812.7,1059.8 802.8,1056.9 792.8,1054.1 782.5,1051.3 772.0,1048.6 761.5,1046.0 750.7,1043.5 739.7,1041.0 728.3,1038.4 716.7,1035.7 704.9,1032.9 693.0,1029.9 680.8,1026.9 668.1,1024.0 654.7,1021.1 640.5,1018.4 625.3,1015.9 609.1,1013.6 592.3,1011.4 575.1,1009.2 557.5,1006.9 540.0,1004.5 521.8,1001.8 502.6,998.8 483.2,995.7 464.3,992.8 446.5,990.3 430.6,988.4 416.1,987.2 402.5,986.6 390.0,986.4 379.0,986.5 369.9,986.5 363.0,986.5 360.4,984.4 356.8,981.5 352.5,978.1 347.7,974.5 342.9,970.9 338.2,967.7 333.6,964.8 329.0,962.1 324.3,959.4 319.3,956.7 314.1,954.0 308.5,951.2 302.4,948.2 295.9,945.1 289.1,941.9 282.2,938.8 275.4,935.8 268.9,933.0 262.9,930.4 257.3,927.9 251.9,925.6 246.2,923.4 239.8,921.5 232.6,919.8 223.6,918.5 212.8,917.4 201.5,916.6 190.7,915.9 181.5,915.4" fill="#6495ed" stroke="none" stroke-width="0" stroke-linejoin="round"/>
<polygon points="175.0,915.0 180.6,915.4 187.7,915.8 196.4,916.4 206.7,917.1 218.8,918.0 232.6,919.1 248.8,920.4 267.4,921.9 287.8,923.5 309.0,925.4 330.5,927.4 351.4,929.7 372.4,932.3 394.3,935.3 416.3,938.5 437.9,941.7 458.3,944.9 476.8,947.9 493.0,950.6 507.2,953.1 520.3,955.5 533.0,957.9 546.0,960.6 560.0,963.5 575.1,966.7 590.6,970.2 606.5,973.8 622.5,977.6 638.5,981.4 654.3,985.4 669.9,989.4 685.4,993.4 700.9,997.6 716.4,1001.9 732.1,1006.5 747.9,1011.4 764.8,1017.0 783.0,1023.3 801.3,1029.9 817.2,1035.7 818.7,1037.4 820.8,1039.7 823.3,1042.4 826.0,1045.4 828.6,1048.4 831.0,1051.3 833.3,1054.3 835.6,1057.6 838.0,1060.9 840.1,1064.1 841.9,1066.7 843.2,1068.6 841.5,1068.6 832.0,1065.7 822.4,1062.8 812.7,1059.8 802.8,1056.9 792.8,1054.1 782.5,1051.3 772.0,1048.6 761.5,1046.0 750.7,1043.5 739.7,1041.0 728.3,1038.4 716.7,1035.7 704.9,1032.9 693.0,1029.9 680.8,1026.9 668.1,1024.0 654.7,1021.1 640.5,1018.4 625.3,1015.9 609.1,1013.6 592.3,1011.4 575.1,1009.2 557.5,1006.9 540.0,1004.5 521.8,1001.8 502.6,998.8 483.2,995.7 464.3,992.8 446.5,990.3 430.6,988.4 416.1,987.2 402.5,986.6 390.0,986.4 379.0,986.5 369.9,986.5 363.0,986.5 360.4,984.4 356.8,981.5 352.5,978.1 347.7,974.5 342.9,970.9 338.2,967.7 333.6,964.8 329.0,962.1 324.3,959.4 319.3,956.7 314.1,954.0 308.5,951.2 302.4,948.2 295.9,945.1 289.1,941.9 282.2,938.8 275.4,935.8 268.9,933.0 262.9,930.4 257.3,927.9 251.9,925.6 246.2,923.4 239.8,921.5 232.6,919.8 223.6,918.5 212.8,917.4 201.5,916.6 190.7,915.9 181.5,915.4" fill="#dc143c" stroke="none" stroke-width="0" stroke-linejoin="round"/>
<polygon points="175.0,915.0 180.6,915.4 187.7,915.8 196.4,916.4 206.7,917.1 218.8,918.0 232.6,919.1 248.8,920.4 267.4,921.9 287.8,923.5 309.0,925.4 330.5,927.4 351.4,929.7 372.4,932.3 394.3,935.3 416.3,938.5 437.9,941.7 458.3,944.9 476.8,947.9 493.0,950.6 507.2,953.1 520.3,955.5 533.0,957.9 546.0,960.6 560.0,963.5 575.1,966.7 590.6,970.2 606.5,973.8 622.5,977.6 638.5,981.4 654.3,985.4 669.9,989.4 685.4,993.4 700.9,997.6 716.4,1001.9 732.1,1006.5 747.9,1011.4 761.8,1016.3 763.3,1018.1 765.4,1020.6 767.9,1023.5 770.5,1026.7 773.0,1029.9 775.0,1033.0 776.7,1036.2 778.2,1039.7 779.6,1043.2 780.8,1046.5 781.7,1049.3 782.5,1051.3 772.0,1048.6 761.5,1046.0 750.7,1043.5 739.7,1041.0 728.3,1038.4 716.7,1035.7 704.9,1032.9 693.0,1029.9 680.8,1026.9 668.1,1024.0 654.7,1021.1 640.5,1018.4 625.3,1015.9 609.1,1013.6 592.3,1011.4 575.1,1009.2 557.5,1006.9 540.0,1004.5 521.8,1001.8 502.6,998.8 483.2,995.7 464.3,992.8 446.5,990.3 430.6,988.4 416.1,987.2 402.5,986.6 390.0,986.4 379.0,986.5 369.9,986.5 363.0,986.5 360.4,984.4 356.8,981.5 352.5,978.1 347.7,974.5 342.9,970.9 338.2,967.7 333.6,964.8 329.0,962.1 324.3,959.4 319.3,956.7 314.1,954.0 308.5,951.2 302.4,948.2 295.9,945.1 289.1,941.9 282.2,938.8 275.4,935.8 268.9,933.0 262.9,930.4 257.3,927.9 251.9,925.6 246.2,923.4 239.8,921.5 232.6,919.8 223.6,918.5 212.8,917.4 201.5,916.6 190.7,915.9 181.5,915.4" fill="#90ee90" stroke="none" stroke-width="0" stroke-linejoin="round"/>
<polygon points="175.0,915.0 180.6,915.4 187.7,915.8 196.4,916.4 206.7,917.1 218.8,918.0 232.6,919.1 248.8,920.4 267.4,921.9 287.8,923.5 309.0,925.4 330.5,927.4 351.4,929.7 372.4,932.3 394.3,935.3 416.3,938.5 437.9,941.7 458.3,944.9 476.8,947.9 493.0,950.6 507.2,953.1 520.3,955.5 533.0,957.9 546.0,960.6 560.0,963.5 575.1,966.7 590.6,970.2 606.5,973.8 622.5,977.6 638.5,981.4 654.3,985.4 669.9,989.4 685.4,993.4 685.5,994.1 687.9,996.6 691.3,1000.1 695.3,1004.2 699.4,1008.5 703.2,1012.8 706.3,1016.6 708.8,1020.2 710.9,1023.9 712.8,1027.6 714.4,1030.9 715.7,1033.7 716.7,1035.7 704.9,1032.9 693.0,1029.9 680.8,1026.9 668.1,1024.0 654.7,1021.1 640.5,1018.4 625.3,1015.9 609.1,1013.6 592.3,1011.4 575.1,1009.2 557.5,1006.9 540.0,1004.5 521.8,1001.8 502.6,998.8 483.2,995.7 464.3,992.8 446.5,990.3 430.6,988.4 416.1,987.2 402.5,986.6 390.0,986.4 379.0,986.5 369.9,986.5 363.0,986.5 360.4,984.4 356.8,981.5 352.5,978.1 347.7,974.5 342.9,970.9 338.2,967.7 333.6,964.8 329.0,962.1 324.3,959.4 319.3,956.7 314.1,954.0 308.5,951.2 302.4,948.2 295.9,945.1 289.1,941.9 282.2,938.8 275.4,935.8 268.9,933.0 262.9,930.4 257.3,927.9 251.9,925.6 246.2,923.4 239.8,921.5 232.6,919.8 223.6,918.5 212.8,917.4 201.5,916.6 190.7,915.9 181.5,915.4" fill="#ff8c00" stroke="none" stroke-width="0" stroke-linejoin="round"/>
<polygon points="175.0,915.0 180.6,915.4 187.7,915.8 196.4,916.4 206.7,917.1 218.8,918.0 232.6,919.1 248.8,920.4 267.4,921.9 287.8,923.5 309.0,925.4 330.5,927.4 351.4,929.7 372.4,932.3 394.3,935.3 416.3,938.5 437.9,941.7 458.3,944.9 476.8,947.9 493.0,950.6 507.2,953.1 520.3,955.5 533.0,957.9 546.0,960.6 560.0,963.5 575.1,966.7 590.6,970.2 606.5,973.8 612.0,979.0 613.7,980.4 616.1,982.4 618.9,984.8 621.8,987.3 624.5,989.8 626.8,991.9 628.6,993.7 630.1,995.3 631.5,996.8 632.7,998.4 633.9,1000.2 635.0,1002.2 636.1,1004.7 637.2,1007.8 638.3,1010.9 639.2,1014.0 639.9,1016.6 640.5,1018.4 625.3,1015.9 609.1,1013.6 592.3,1011.4 575.1,1009.2 557.5,1006.9 540.0,1004.5 521.8,1001.8 502.6,998.8 483.2,995.7 464.3,992.8 446.5,990.3 430.6,988.4 416.1,987.2 402.5,986.6 390.0,986.4 379.0,986.5 369.9,986.5 363.0,986.5 360.4,984.4 356.8,981.5 352.5,978.1 347.7,974.5 342.9,970.9 338.2,967.7 333.6,964.8 329.0,962.1 324.3,959.4 319.3,956.7 314.1,954.0 308.5,951.2 302.4,948.2 295.9,945.1 289.1,941.9 282.2,938.8 275.4,935.8 268.9,933.0 262.9,930.4 257.3,927.9 251.9,925.6 246.2,923.4 239.8,921.5 232.6,919.8 223.6,918.5 212.8,917.4 201.5,916.6 190.7,915.9 181.5,915.4" fill="#afeeee" stroke="none" stroke-width="0" stroke-linejoin="round"/>
<polygon points="175.0,915.0 180.6,915.4 187.7,915.8 196.4,916.4 206.7,917.1 218.8,918.0 232.6,919.1 248.8,920.4 267.4,921.9 287.8,923.5 309.0,925.4 330.5,927.4 351.4,929.7 372.4,932.3 394.3,935.3 416.3,938.5 437.9,941.7 458.3,944.9 476.8,947.9 493.0,950.6 505.0,956.0 506.5,956.9 508.6,958.2 511.1,959.7 513.8,961.4 516.7,963.2 519.5,965.0 522.4,966.9 525.7,969.0 529.0,971.1 532.3,973.3 535.3,975.4 538.0,977.4 540.3,979.2 542.4,980.8 544.2,982.4 545.9,984.0 547.2,985.8 548.4,987.8 549.2,990.3 549.7,993.3 550.0,996.4 550.1,999.4 550.2,1002.1 550.4,1004.0 550.6,1005.2 550.7,1005.8 550.8,1006.0 550.9,1006.0 551.0,1005.9 551.0,1006.0 540.0,1004.5 521.8,1001.8 502.6,998.8 483.2,995.7 464.3,992.8 446.5,990.3 430.6,988.4 416.1,987.2 402.5,986.6 390.0,986.4 379.0,986.5 369.9,986.5 363.0,986.5 360.4,984.4 356.8,981.5 352.5,978.1 347.7,974.5 342.9,970.9 338.2,967.7 333.6,964.8 329.0,962.1 324.3,959.4 319.3,956.7 314.1,954.0 308.5,951.2 302.4,948.2 295.9,945.1 289.1,941.9 282.2,938.8 275.4,935.8 268.9,933.0 262.9,930.4 257.3,927.9 251.9,925.6 246.2,923.4 239.8,921.5 232.6,919.8 223.6,918.5 212.8,917.4 201.5,916.6 190.7,915.9 181.5,915.4" fill="#008080" stroke="none" stroke-width="0" stroke-linejoin="round"/>
<polygon points="232.6,919.8 240.1,920.3 250.7,921.0 263.1,921.9 276.2,922.9 288.9,923.9 300.0,925.0 309.6,926.2 318.6,927.5 327.2,928.9 335.4,930.3 343.5,931.7 351.4,933.0 359.4,934.2 367.4,935.3 375.2,936.3 382.5,937.4 389.2,938.4 395.0,939.5 399.8,940.5 403.6,941.5 406.8,942.5 409.6,943.6 412.2,944.7 415.0,946.0 417.9,947.4 420.7,949.0 423.4,950.6 425.9,952.3 428.1,954.1 430.0,956.0 431.6,958.0 433.0,960.2 434.1,962.5 435.0,964.9 435.6,967.1 436.0,969.3 436.0,971.4 435.7,973.5 435.2,975.6 434.5,977.5 433.7,979.4 433.0,981.0 432.2,982.5 431.3,983.8 430.3,985.0 429.4,986.0 428.6,986.9 428.0,987.5 363.0,986.5 360.4,984.4 356.8,981.5 352.5,978.1 347.7,974.5 342.9,970.9 338.2,967.7 333.6,964.8 329.0,962.1 324.3,959.4 319.3,956.7 314.1,954.0 308.5,951.2 302.4,948.2 295.9,945.1 289.1,941.9 282.2,938.8 275.4,935.8 268.9,933.0 262.9,930.4 257.3,927.9 251.9,925.6 246.2,923.4 239.8,921.5 232.6,919.8 223.6,918.5 212.8,917.4 201.5,916.6 190.7,915.9 181.5,915.4" fill="#808000" stroke="none" stroke-width="0" stroke-linejoin="round"/>
<polyline points="175.0,915.0 181.5,915.4 190.7,915.9 201.5,916.6 212.8,917.4 223.6,918.5 232.6,919.8 239.8,921.5 246.2,923.4 251.9,925.6 257.3,927.9 262.9,930.4 268.9,933.0 275.4,935.8 282.2,938.8 289.1,941.9 295.9,945.1 302.4,948.2 308.5,951.2 314.1,954.0 319.3,956.7 324.3,959.4 329.0,962.1 333.6,964.8 338.2,967.7 342.9,970.9 347.7,974.5 352.5,978.1 356.8,981.5 360.4,984.4 363.0,986.5" fill="none" stroke="#000" stroke-width="1.2" stroke-linejoin="round" stroke-linecap="round"/>
<polygon points="482.0,948.8 493.0,950.6 507.2,953.1 520.3,955.5 533.0,957.9 546.0,960.6 556.0,962.7 556.0,966.9 538.0,963.5 482.0,952.0" fill="#afeeee" stroke="none" stroke-width="0" stroke-linejoin="round"/>
<polygon points="556.0,962.7 560.0,963.5 575.1,966.7 590.6,970.2 606.5,973.8 622.5,977.6 638.5,981.4 652.0,984.8 652.0,990.0 614.0,980.5 594.0,974.0 556.0,966.9" fill="#ff8c00" stroke="none" stroke-width="0" stroke-linejoin="round"/>
<polygon points="652.0,984.8 654.3,985.4 669.9,989.4 685.4,993.4 700.9,997.6 716.4,1001.9 722.0,1003.6 722.0,1004.9 720.0,1004.0 676.0,996.0 652.0,990.0" fill="#90ee90" stroke="none" stroke-width="0" stroke-linejoin="round"/>
<polygon points="722.0,1003.6 732.1,1006.5 747.9,1011.4 764.8,1017.0 783.0,1023.3 800.0,1029.4 800.0,1031.0 748.0,1016.0 722.0,1004.9" fill="#dc143c" stroke="none" stroke-width="0" stroke-linejoin="round"/>
<polygon points="800.0,1029.4 801.3,1029.9 818.6,1036.2 833.6,1041.7 845.0,1045.9 845.0,1047.4 800.0,1031.0" fill="#6495ed" stroke="none" stroke-width="0" stroke-linejoin="round"/>
<polyline points="482.0,952.0 538.0,963.5 594.0,974.0 614.0,980.5 676.0,996.0 720.0,1004.0 748.0,1016.0 800.0,1031.0 845.3,1047.5" fill="none" stroke="#111" stroke-width="1.3" stroke-linejoin="round" stroke-linecap="round"/>
<polygon points="175.0,915.0 180.6,915.4 187.7,915.8 196.4,916.4 206.7,917.1 218.8,918.0 232.6,919.1 248.8,920.4 267.4,921.9 287.8,923.5 309.0,925.4 330.5,927.4 351.4,929.7 372.4,932.3 394.3,935.3 416.3,938.5 437.9,941.7 458.3,944.9 476.8,947.9 493.0,950.6 507.2,953.1 520.3,955.5 533.0,957.9 546.0,960.6 560.0,963.5 575.1,966.7 590.6,970.2 606.5,973.8 622.5,977.6 638.5,981.4 654.3,985.4 669.9,989.4 685.4,993.4 700.9,997.6 716.4,1001.9 732.1,1006.5 747.9,1011.4 764.8,1017.0 783.0,1023.3 801.3,1029.9 818.6,1036.2 833.6,1041.7 845.3,1046.0 852.7,1048.7 856.7,1050.2 858.5,1051.0 859.3,1051.5 860.5,1052.1 863.2,1053.5 867.6,1055.6 872.6,1057.9 877.9,1060.5 883.2,1063.2 888.3,1065.8 892.9,1068.3 896.7,1070.5 900.0,1072.5 903.1,1074.5 906.2,1076.6 909.6,1078.9 913.7,1081.7 918.9,1085.2 925.1,1089.4 931.7,1093.9 938.0,1098.2 943.3,1101.9 947.1,1104.5 941.7,1101.4 934.3,1098.8 925.5,1095.7 915.9,1092.3 906.1,1089.0 896.9,1085.9 888.0,1083.0 879.0,1080.1 869.8,1077.2 860.4,1074.4 851.0,1071.5 841.5,1068.6 832.0,1065.7 822.4,1062.8 812.7,1059.8 802.8,1056.9 792.8,1054.1 782.5,1051.3 772.0,1048.6 761.5,1046.0 750.7,1043.5 739.7,1041.0 728.3,1038.4 716.7,1035.7 704.9,1032.9 693.0,1029.9 680.8,1026.9 668.1,1024.0 654.7,1021.1 640.5,1018.4 625.3,1015.9 609.1,1013.6 592.3,1011.4 575.1,1009.2 557.5,1006.9 540.0,1004.5 521.8,1001.8 502.6,998.8 483.2,995.7 464.3,992.8 446.5,990.3 430.6,988.4 416.1,987.2 402.5,986.6 390.0,986.4 379.0,986.5 369.9,986.5 363.0,986.5 360.4,984.4 356.8,981.5 352.5,978.1 347.7,974.5 342.9,970.9 338.2,967.7 333.6,964.8 329.0,962.1 324.3,959.4 319.3,956.7 314.1,954.0 308.5,951.2 302.4,948.2 295.9,945.1 289.1,941.9 282.2,938.8 275.4,935.8 268.9,933.0 262.9,930.4 257.3,927.9 251.9,925.6 246.2,923.4 239.8,921.5 232.6,919.8 223.6,918.5 212.8,917.4 201.5,916.6 190.7,915.9 181.5,915.4" fill="none" stroke="#000" stroke-width="1.6" stroke-linejoin="round"/>
<rect x="522.6" y="958.9" width="6" height="5" fill="none" stroke="#8a5a5a" stroke-width="0.9"/>
<polyline points="619.6,978.4 619.8,984.5" fill="none" stroke="#000" stroke-width="2.2" stroke-linejoin="round" stroke-linecap="round"/>
<ellipse cx="544" cy="964.2" rx="2.6" ry="2" fill="none" stroke="#000" stroke-width="1.3"/>
<ellipse cx="551" cy="965.4" rx="2.6" ry="2" fill="none" stroke="#000" stroke-width="1.3"/>
<text x="371.85" y="959.40" font-size="19.91" font-weight="normal" fill="#fff" textLength="39.74" lengthAdjust="spacingAndGlyphs" stroke="#fff" stroke-width="0.75">72.0</text>
<text x="437.12" y="960.40" font-size="20.34" font-weight="normal" fill="#fff" textLength="41.20" lengthAdjust="spacingAndGlyphs" stroke="#fff" stroke-width="0.75">69.0</text>
<text x="502.13" y="950.20" font-size="19.91" font-weight="normal" fill="#000" textLength="40.89" lengthAdjust="spacingAndGlyphs" stroke="#000" stroke-width="0.75">66.0</text>
<text x="594.31" y="970.90" font-size="19.91" font-weight="normal" fill="#000" textLength="41.83" lengthAdjust="spacingAndGlyphs" stroke="#000" stroke-width="0.75">63.0</text>
<text x="686.23" y="992.40" font-size="19.91" font-weight="normal" fill="#000" textLength="40.99" lengthAdjust="spacingAndGlyphs" stroke="#000" stroke-width="0.75">60.0</text>
<text x="754.66" y="1014.90" font-size="19.91" font-weight="normal" fill="#000" textLength="40.86" lengthAdjust="spacingAndGlyphs" stroke="#000" stroke-width="0.75">57.0</text>
<text x="741.12" y="1028.30" font-size="18.05" font-weight="normal" fill="none" textLength="33.55" lengthAdjust="spacingAndGlyphs" stroke="#3a0a0a" stroke-width="0.6">60.0</text>
<text x="825.06" y="1037.40" font-size="18.90" font-weight="normal" fill="#000" textLength="40.76" lengthAdjust="spacingAndGlyphs" stroke="#000" stroke-width="0.75">54.0</text>
<line x1="152.5" y1="779.0" x2="351.7" y2="878.0" stroke="#222" stroke-width="1"/>
<line x1="351.7" y1="878.0" x2="969.0" y2="846.0" stroke="#222" stroke-width="1"/>
<line x1="152.5" y1="1068.3" x2="351.5" y2="1169.0" stroke="#222" stroke-width="1"/>
<line x1="351.5" y1="1169.0" x2="968.5" y2="1136.2" stroke="#222" stroke-width="1"/>
<line x1="351.7" y1="878.0" x2="351.5" y2="1169.0" stroke="#555" stroke-width="1"/>
<path d="M162.5 784.0l6.0 -0.3M172.4 788.9l6.0 -0.3M182.4 793.9l6.0 -0.3M192.3 798.8l10.8 -0.6M202.3 803.8l6.0 -0.3M212.3 808.7l6.0 -0.3M222.2 813.6l6.0 -0.3M232.2 818.6l10.8 -0.6M242.1 823.5l6.0 -0.3M252.1 828.5l6.0 -0.3M262.1 833.5l6.0 -0.3M272.0 838.4l10.8 -0.6M282.0 843.4l6.0 -0.3M291.9 848.3l6.0 -0.3M301.9 853.2l6.0 -0.3M311.9 858.2l10.8 -0.6M321.8 863.1l6.0 -0.3M331.8 868.1l6.0 -0.3M341.7 873.0l6.0 -0.3" stroke="#222" stroke-width="1" fill="none"/>
<path d="M162.4 1073.3l6.0 -0.3M172.4 1078.4l6.0 -0.3M182.3 1083.4l6.0 -0.3M192.3 1088.4l10.8 -0.6M202.2 1093.5l6.0 -0.3M212.2 1098.5l6.0 -0.3M222.1 1103.5l6.0 -0.3M232.1 1108.6l10.8 -0.6M242.1 1113.6l6.0 -0.3M252.0 1118.7l6.0 -0.3M261.9 1123.7l6.0 -0.3M271.9 1128.7l10.8 -0.6M281.9 1133.8l6.0 -0.3M291.8 1138.8l6.0 -0.3M301.8 1143.8l6.0 -0.3M311.7 1148.9l10.8 -0.6M321.6 1153.9l6.0 -0.3M331.6 1158.9l6.0 -0.3M341.5 1164.0l6.0 -0.3" stroke="#222" stroke-width="1" fill="none"/>
<path d="M390.3 876.0l-3.2 -1.6M428.9 874.0l-3.2 -1.6M467.4 872.0l-3.2 -1.6M506.0 870.0l-6.4 -3.2M544.6 868.0l-3.2 -1.6M583.2 866.0l-3.2 -1.6M621.8 864.0l-3.2 -1.6M660.3 862.0l-6.4 -3.2M698.9 860.0l-3.2 -1.6M737.5 858.0l-3.2 -1.6M776.1 856.0l-3.2 -1.6M814.7 854.0l-6.4 -3.2M853.3 852.0l-3.2 -1.6M891.8 850.0l-3.2 -1.6M930.4 848.0l-3.2 -1.6" stroke="#222" stroke-width="1" fill="none"/>
<path d="M390.1 1167.0l-3.2 -1.6M428.6 1164.9l-3.2 -1.6M467.2 1162.8l-3.2 -1.6M505.8 1160.8l-6.4 -3.2M544.3 1158.8l-3.2 -1.6M582.9 1156.7l-3.2 -1.6M621.4 1154.7l-3.2 -1.6M660.0 1152.6l-6.4 -3.2M698.6 1150.5l-3.2 -1.6M737.1 1148.5l-3.2 -1.6M775.7 1146.5l-3.2 -1.6M814.2 1144.4l-6.4 -3.2M852.8 1142.4l-3.2 -1.6M891.4 1140.3l-3.2 -1.6M929.9 1138.2l-3.2 -1.6" stroke="#222" stroke-width="1" fill="none"/>
<path d="M351.7 892.5l-2.7 -1.3M351.7 907.1l-2.7 -1.3M351.7 921.6l-2.7 -1.3M351.7 936.2l-2.7 -1.3M351.6 950.8l-5.4 -2.7M351.6 965.3l-2.7 -1.3M351.6 979.9l-2.7 -1.3M351.6 994.4l-2.7 -1.3M351.6 1009.0l-2.7 -1.3M351.6 1023.5l-5.4 -2.7M351.6 1038.0l-2.7 -1.3M351.6 1052.6l-2.7 -1.3M351.6 1067.2l-2.7 -1.3M351.6 1081.7l-2.7 -1.3M351.6 1096.2l-5.4 -2.7M351.5 1110.8l-2.7 -1.3M351.5 1125.3l-2.7 -1.3M351.5 1139.9l-2.7 -1.3M351.5 1154.5l-2.7 -1.3" stroke="#222" stroke-width="1" fill="none"/>
<text x="498.65" y="675.60" font-size="26.74" font-weight="bold" fill="#000" textLength="347.34" lengthAdjust="spacingAndGlyphs" stroke="#000" stroke-width="0.60">Activity of biocatalyst 16 (U)</text>
<text x="223.69" y="726.00" font-size="28.34" font-weight="normal" fill="#000" textLength="18.80" lengthAdjust="spacingAndGlyphs" stroke="#000" stroke-width="0.75">B</text>
<text x="120.21" y="792.22" font-size="23.30" font-weight="bold" fill="#000" textLength="27.55" lengthAdjust="spacingAndGlyphs" stroke="#000" stroke-width="0.60">88</text>
<text x="119.92" y="861.32" font-size="23.30" font-weight="bold" fill="#000" textLength="27.85" lengthAdjust="spacingAndGlyphs" stroke="#000" stroke-width="0.60">78</text>
<text x="120.09" y="930.22" font-size="23.30" font-weight="bold" fill="#000" textLength="27.68" lengthAdjust="spacingAndGlyphs" stroke="#000" stroke-width="0.60">68</text>
<text x="120.24" y="998.42" font-size="23.30" font-weight="bold" fill="#000" textLength="27.52" lengthAdjust="spacingAndGlyphs" stroke="#000" stroke-width="0.60">58</text>
<text x="120.63" y="1066.32" font-size="23.30" font-weight="bold" fill="#000" textLength="27.12" lengthAdjust="spacingAndGlyphs" stroke="#000" stroke-width="0.60">48</text>
<text x="102.51" y="1106.11" font-size="24.43" font-weight="bold" fill="#000" textLength="28.65" lengthAdjust="spacingAndGlyphs" stroke="#000" stroke-width="0.60">30</text>
<text x="140.83" y="1125.41" font-size="24.43" font-weight="bold" fill="#000" textLength="27.71" lengthAdjust="spacingAndGlyphs" stroke="#000" stroke-width="0.60">34</text>
<text x="177.51" y="1144.01" font-size="24.43" font-weight="bold" fill="#000" textLength="28.37" lengthAdjust="spacingAndGlyphs" stroke="#000" stroke-width="0.60">38</text>
<text x="215.11" y="1162.41" font-size="24.43" font-weight="bold" fill="#000" textLength="28.41" lengthAdjust="spacingAndGlyphs" stroke="#000" stroke-width="0.60">42</text>
<text x="253.71" y="1181.71" font-size="24.43" font-weight="bold" fill="#000" textLength="28.30" lengthAdjust="spacingAndGlyphs" stroke="#000" stroke-width="0.60">46</text>
<text x="291.00" y="1202.01" font-size="24.43" font-weight="bold" fill="#000" textLength="28.86" lengthAdjust="spacingAndGlyphs" stroke="#000" stroke-width="0.60">50</text>
<text x="383.71" y="1191.11" font-size="24.43" font-weight="bold" fill="#000" textLength="28.65" lengthAdjust="spacingAndGlyphs" stroke="#000" stroke-width="0.60">30</text>
<text x="528.60" y="1184.41" font-size="24.43" font-weight="bold" fill="#000" textLength="28.86" lengthAdjust="spacingAndGlyphs" stroke="#000" stroke-width="0.60">50</text>
<text x="674.17" y="1176.41" font-size="24.43" font-weight="bold" fill="#000" textLength="29.21" lengthAdjust="spacingAndGlyphs" stroke="#000" stroke-width="0.60">70</text>
<text x="820.30" y="1169.41" font-size="24.43" font-weight="bold" fill="#000" textLength="28.97" lengthAdjust="spacingAndGlyphs" stroke="#000" stroke-width="0.60">90</text>
<text x="965.77" y="1160.91" font-size="24.43" font-weight="bold" fill="#000" textLength="41.91" lengthAdjust="spacingAndGlyphs" stroke="#000" stroke-width="0.60">110</text>
<text x="14.11" y="1188.47" font-size="25.21" font-weight="bold" fill="#000" textLength="209.98" lengthAdjust="spacingAndGlyphs" stroke="#000" stroke-width="0.60">Temperature (°C)</text>
<text x="517.44" y="1228.21" font-size="24.03" font-weight="bold" fill="#000" textLength="339.05" lengthAdjust="spacingAndGlyphs" stroke="#000" stroke-width="0.60">Concentration of HMF (mM)</text>
<text x="0" y="0" stroke="#000" stroke-width="0.60" font-size="27.14" font-weight="bold" fill="#000" textLength="191.37" lengthAdjust="spacingAndGlyphs" transform="translate(81.47 1009.77) rotate(-90)">Conversion (%)</text>
<rect x="995.3" y="762.0" width="187.4" height="325.3" fill="#fff" stroke="#000" stroke-width="1.2"/>
<text x="1000.64" y="786.80" font-size="26.74" font-weight="bold" fill="#000" textLength="141.75" lengthAdjust="spacingAndGlyphs" stroke="#000" stroke-width="0.60">Conversion</text>
<rect x="1000.6" y="799.6" width="54.4" height="15.8" fill="#c0c0c0"/>
<rect x="1000.6" y="828.7" width="54.4" height="15.8" fill="#6495ed"/>
<rect x="1000.6" y="857.8" width="54.4" height="15.8" fill="#dc143c"/>
<rect x="1000.6" y="886.9" width="54.4" height="15.8" fill="#90ee90"/>
<rect x="1000.6" y="916.0" width="54.4" height="15.8" fill="#ff8c00"/>
<rect x="1000.6" y="945.1" width="54.4" height="15.8" fill="#afeeee"/>
<rect x="1000.6" y="974.2" width="54.4" height="15.8" fill="#008080"/>
<rect x="1000.6" y="1003.3" width="54.4" height="15.8" fill="#808000"/>
<rect x="1000.6" y="1032.4" width="54.4" height="15.8" fill="#f0e68c"/>
<rect x="1000.6" y="1061.5" width="54.4" height="15.8" fill="#4682b4"/>
<text x="1074.41" y="815.20" font-size="23.63" font-weight="bold" fill="#000" textLength="108.85" lengthAdjust="spacingAndGlyphs" stroke="#000" stroke-width="0.60">51.0-54.0</text>
<text x="1074.41" y="844.30" font-size="23.63" font-weight="bold" fill="#000" textLength="108.85" lengthAdjust="spacingAndGlyphs" stroke="#000" stroke-width="0.60">54.0-57.0</text>
<text x="1074.41" y="873.40" font-size="23.63" font-weight="bold" fill="#000" textLength="108.85" lengthAdjust="spacingAndGlyphs" stroke="#000" stroke-width="0.60">57.0-60.0</text>
<text x="1074.26" y="902.50" font-size="23.63" font-weight="bold" fill="#000" textLength="109.00" lengthAdjust="spacingAndGlyphs" stroke="#000" stroke-width="0.60">60.0-63.0</text>
<text x="1074.26" y="931.60" font-size="23.63" font-weight="bold" fill="#000" textLength="109.00" lengthAdjust="spacingAndGlyphs" stroke="#000" stroke-width="0.60">63.0-66.0</text>
<text x="1074.26" y="960.70" font-size="23.63" font-weight="bold" fill="#000" textLength="109.00" lengthAdjust="spacingAndGlyphs" stroke="#000" stroke-width="0.60">66.0-69.0</text>
<text x="1074.26" y="989.80" font-size="23.63" font-weight="bold" fill="#000" textLength="109.00" lengthAdjust="spacingAndGlyphs" stroke="#000" stroke-width="0.60">69.0-72.0</text>
<text x="1074.09" y="1018.90" font-size="23.63" font-weight="bold" fill="#000" textLength="109.17" lengthAdjust="spacingAndGlyphs" stroke="#000" stroke-width="0.60">72.0-75.0</text>
<text x="1074.09" y="1048.00" font-size="23.63" font-weight="bold" fill="#000" textLength="109.17" lengthAdjust="spacingAndGlyphs" stroke="#000" stroke-width="0.60">75.0-78.0</text>
<text x="1074.09" y="1077.10" font-size="23.63" font-weight="bold" fill="#000" textLength="109.17" lengthAdjust="spacingAndGlyphs" stroke="#000" stroke-width="0.60">78.0-81.0</text>
<line x1="118.7" y1="1421.5" x2="750.4" y2="1377.0" stroke="#000" stroke-width="1.6"/>
<line x1="750.4" y1="1377.0" x2="955.5" y2="1518.0" stroke="#000" stroke-width="1.6"/>
<line x1="118.8" y1="1692.5" x2="750.5" y2="1643.5" stroke="#000" stroke-width="1.6"/>
<line x1="750.5" y1="1643.5" x2="955.7" y2="1787.0" stroke="#000" stroke-width="1.6"/>
<line x1="750.4" y1="1377.0" x2="750.5" y2="1643.5" stroke="#000" stroke-width="1.6"/>
<line x1="118.7" y1="1421.5" x2="118.8" y2="1692.5" stroke="#000" stroke-width="1.6"/>
<line x1="955.5" y1="1518.0" x2="955.7" y2="1787.0" stroke="#000" stroke-width="1.6"/>
<path d="M758.9 1382.9l-8.0 0.6M767.5 1388.8l-8.0 0.6M776.0 1394.6l-8.0 0.6M784.6 1400.5l-14.4 1.0M793.1 1406.4l-8.0 0.6M801.7 1412.2l-8.0 0.6M810.2 1418.1l-8.0 0.6M818.8 1424.0l-14.4 1.0M827.3 1429.9l-8.0 0.6M835.9 1435.8l-8.0 0.6M844.4 1441.6l-8.0 0.6M853.0 1447.5l-14.4 1.0M861.5 1453.4l-8.0 0.6M870.0 1459.2l-8.0 0.6M878.6 1465.1l-8.0 0.6M887.1 1471.0l-14.4 1.0M895.7 1476.9l-8.0 0.6M904.2 1482.8l-8.0 0.6M912.8 1488.6l-8.0 0.6M921.3 1494.5l-14.4 1.0M929.9 1500.4l-8.0 0.6M938.4 1506.2l-8.0 0.6M947.0 1512.1l-8.0 0.6" stroke="#000" stroke-width="1.3" fill="none"/>
<path d="M759.0 1649.5l-8.0 0.6M767.6 1655.5l-8.0 0.6M776.1 1661.4l-8.0 0.6M784.7 1667.4l-14.4 1.0M793.2 1673.4l-8.0 0.6M801.8 1679.4l-8.0 0.6M810.4 1685.4l-8.0 0.6M818.9 1691.3l-14.4 1.0M827.5 1697.3l-8.0 0.6M836.0 1703.3l-8.0 0.6M844.5 1709.3l-8.0 0.6M853.1 1715.2l-14.4 1.0M861.6 1721.2l-8.0 0.6M870.2 1727.2l-8.0 0.6M878.8 1733.2l-8.0 0.6M887.3 1739.2l-14.4 1.0M895.9 1745.1l-8.0 0.6M904.4 1751.1l-8.0 0.6M913.0 1757.1l-8.0 0.6M921.5 1763.1l-14.4 1.0M930.1 1769.1l-8.0 0.6M938.6 1775.0l-8.0 0.6M947.2 1781.0l-8.0 0.6" stroke="#000" stroke-width="1.3" fill="none"/>
<path d="M158.2 1418.7l4.0 2.7M197.7 1415.9l4.0 2.7M237.1 1413.2l4.0 2.7M276.6 1410.4l7.9 5.4M316.1 1407.6l4.0 2.7M355.6 1404.8l4.0 2.7M395.1 1402.0l4.0 2.7M434.5 1399.2l7.9 5.4M474.0 1396.5l4.0 2.7M513.5 1393.7l4.0 2.7M553.0 1390.9l4.0 2.7M592.5 1388.1l7.9 5.4M632.0 1385.3l4.0 2.7M671.4 1382.6l4.0 2.7M710.9 1379.8l4.0 2.7" stroke="#000" stroke-width="1.3" fill="none"/>
<path d="M158.3 1689.4l4.0 2.7M197.8 1686.4l4.0 2.7M237.2 1683.3l4.0 2.7M276.7 1680.2l7.9 5.4M316.2 1677.2l4.0 2.7M355.7 1674.1l4.0 2.7M395.2 1671.1l4.0 2.7M434.7 1668.0l7.9 5.4M474.1 1664.9l4.0 2.7M513.6 1661.9l4.0 2.7M553.1 1658.8l4.0 2.7M592.6 1655.8l7.9 5.4M632.1 1652.7l4.0 2.7M671.5 1649.6l4.0 2.7M711.0 1646.6l4.0 2.7" stroke="#000" stroke-width="1.3" fill="none"/>
<path d="M750.4 1390.3l3.3 2.3M750.4 1403.7l3.3 2.3M750.4 1417.0l3.3 2.3M750.4 1430.3l3.3 2.3M750.4 1443.6l6.6 4.5M750.4 1457.0l3.3 2.3M750.4 1470.3l3.3 2.3M750.4 1483.6l3.3 2.3M750.4 1496.9l3.3 2.3M750.5 1510.2l6.6 4.5M750.5 1523.6l3.3 2.3M750.5 1536.9l3.3 2.3M750.5 1550.2l3.3 2.3M750.5 1563.5l3.3 2.3M750.5 1576.9l6.6 4.5M750.5 1590.2l3.3 2.3M750.5 1603.5l3.3 2.3M750.5 1616.8l3.3 2.3M750.5 1630.2l3.3 2.3" stroke="#000" stroke-width="1.3" fill="none"/>
<path d="M118.7 1435.0l4.0 -0.3M118.7 1448.6l4.0 -0.3M118.7 1462.2l4.0 -0.3M118.7 1475.7l4.0 -0.3M118.7 1489.2l8.0 -0.6M118.7 1502.8l4.0 -0.3M118.7 1516.3l4.0 -0.3M118.7 1529.9l4.0 -0.3M118.7 1543.5l4.0 -0.3M118.8 1557.0l8.0 -0.6M118.8 1570.5l4.0 -0.3M118.8 1584.1l4.0 -0.3M118.8 1597.7l4.0 -0.3M118.8 1611.2l4.0 -0.3M118.8 1624.8l8.0 -0.6M118.8 1638.3l4.0 -0.3M118.8 1651.8l4.0 -0.3M118.8 1665.4l4.0 -0.3M118.8 1679.0l4.0 -0.3" stroke="#000" stroke-width="1.3" fill="none"/>
<path d="M955.5 1531.5l-3.3 -2.3M955.5 1544.9l-3.3 -2.3M955.5 1558.3l-3.3 -2.3M955.5 1571.8l-3.3 -2.3M955.5 1585.2l-6.6 -4.5M955.6 1598.7l-3.3 -2.3M955.6 1612.2l-3.3 -2.3M955.6 1625.6l-3.3 -2.3M955.6 1639.0l-3.3 -2.3M955.6 1652.5l-6.6 -4.5M955.6 1666.0l-3.3 -2.3M955.6 1679.4l-3.3 -2.3M955.6 1692.8l-3.3 -2.3M955.6 1706.3l-3.3 -2.3M955.7 1719.8l-6.6 -4.5M955.7 1733.2l-3.3 -2.3M955.7 1746.7l-3.3 -2.3M955.7 1760.1l-3.3 -2.3M955.7 1773.5l-3.3 -2.3" stroke="#000" stroke-width="1.3" fill="none"/>
<line x1="324.6" y1="1562.0" x2="955.5" y2="1518.0" stroke="#000" stroke-width="1.6"/>
<path d="M364.0 1559.2l-4.0 -2.7M403.5 1556.5l-4.0 -2.7M442.9 1553.8l-4.0 -2.7M482.3 1551.0l-7.9 -5.4M521.8 1548.2l-4.0 -2.7M561.2 1545.5l-4.0 -2.7M600.6 1542.8l-4.0 -2.7M640.0 1540.0l-7.9 -5.4M679.5 1537.2l-4.0 -2.7M718.9 1534.5l-4.0 -2.7M758.3 1531.8l-4.0 -2.7M797.8 1529.0l-7.9 -5.4M837.2 1526.2l-4.0 -2.7M876.6 1523.5l-4.0 -2.7M916.1 1520.8l-4.0 -2.7" stroke="#000" stroke-width="1.3" fill="none"/>
<polygon points="142.4,1534.0 150.9,1534.5 162.6,1535.3 176.5,1536.1 191.5,1537.1 206.3,1538.1 220.0,1539.0 232.5,1539.9 244.8,1540.7 257.0,1541.6 269.4,1542.5 282.0,1543.6 295.0,1544.8 308.9,1546.2 323.5,1547.8 338.4,1549.6 353.1,1551.4 367.2,1553.2 380.0,1555.0 391.4,1556.8 401.9,1558.7 411.6,1560.5 420.9,1562.4 430.3,1564.2 440.0,1566.0 450.0,1567.7 460.0,1569.2 470.0,1570.7 480.0,1572.3 490.0,1573.9 500.0,1575.8 510.2,1577.9 520.7,1580.3 531.2,1582.8 541.4,1585.3 551.1,1587.8 560.0,1590.0 567.9,1592.1 574.9,1594.0 581.4,1595.9 587.8,1597.7 594.3,1599.5 601.4,1601.3 609.1,1603.1 617.0,1604.9 625.2,1606.6 633.4,1608.4 641.7,1610.2 650.0,1612.0 658.3,1613.8 666.6,1615.7 675.0,1617.6 683.3,1619.5 691.7,1621.5 700.0,1623.5 708.0,1625.5 715.7,1627.4 723.4,1629.4 731.4,1631.5 739.9,1634.0 749.3,1637.0 759.7,1640.5 770.9,1644.4 782.7,1648.7 794.8,1653.2 806.8,1657.8 818.6,1662.4 830.4,1667.2 842.6,1672.3 854.8,1677.5 866.6,1682.7 877.8,1687.7 887.9,1692.4 897.3,1696.9 906.4,1701.5 914.8,1705.8 922.2,1709.8 928.4,1713.1 933.0,1715.5 926.9,1713.7 918.4,1711.3 908.3,1708.4 897.5,1705.3 886.6,1702.2 876.4,1699.3 866.8,1696.6 857.2,1693.8 847.6,1691.0 837.9,1688.2 828.2,1685.6 818.6,1683.2 809.0,1681.0 799.4,1679.0 789.9,1677.1 780.3,1675.3 770.6,1673.5 760.8,1671.6 750.7,1669.7 740.4,1667.7 729.9,1665.8 719.6,1663.9 709.5,1662.1 700.0,1660.5 690.9,1659.1 682.0,1657.8 673.4,1656.6 665.2,1655.5 657.3,1654.5 650.0,1653.4 643.5,1652.4 638.0,1651.4 632.8,1650.4 627.6,1649.5 621.8,1648.5 615.0,1647.5 607.0,1646.5 598.1,1645.4 588.7,1644.3 579.0,1643.2 569.3,1642.2 560.0,1641.2 551.9,1640.4 545.0,1639.7 538.1,1639.1 530.1,1638.5 519.8,1637.7 506.1,1636.7 487.0,1635.4 463.0,1633.8 436.7,1632.0 410.7,1630.3 387.6,1628.9 370.0,1627.8 358.2,1627.2 350.3,1626.9 345.3,1626.8 342.2,1626.9 339.9,1627.0 337.6,1627.0 321.1,1617.2 309.7,1611.2 293.6,1602.6 274.7,1592.6 254.7,1582.2 235.4,1572.4 218.7,1564.3 203.6,1557.6 188.5,1551.4 174.2,1545.8 161.2,1541.0 150.4,1537.0" fill="#6495ed" stroke="none" stroke-width="0" stroke-linejoin="round"/>
<polygon points="142.4,1534.0 150.9,1534.5 162.6,1535.3 176.5,1536.1 191.5,1537.1 206.3,1538.1 220.0,1539.0 232.5,1539.9 244.8,1540.7 257.0,1541.6 269.4,1542.5 282.0,1543.6 295.0,1544.8 308.9,1546.2 323.5,1547.8 338.4,1549.6 353.1,1551.4 367.2,1553.2 380.0,1555.0 391.4,1556.8 401.9,1558.7 411.6,1560.5 420.9,1562.4 430.3,1564.2 440.0,1566.0 450.0,1567.7 460.0,1569.2 470.0,1571.5 472.9,1572.0 476.7,1572.7 481.2,1573.5 486.7,1574.5 492.9,1575.8 500.0,1577.3 508.5,1579.2 518.5,1581.5 529.4,1584.0 540.4,1586.7 550.8,1589.2 560.0,1591.5 567.7,1593.5 574.4,1595.4 580.6,1597.2 586.7,1599.0 593.0,1600.9 600.0,1603.0 607.8,1605.4 615.9,1607.9 624.4,1610.6 633.0,1613.2 641.6,1615.7 650.0,1618.0 658.2,1619.8 666.3,1621.2 674.4,1622.4 682.6,1623.8 691.1,1625.6 700.0,1628.0 709.4,1631.2 719.3,1635.1 729.5,1639.4 739.7,1643.8 750.0,1648.1 760.0,1652.0 769.9,1655.4 779.7,1658.6 789.4,1661.6 799.2,1664.6 808.9,1667.9 818.6,1671.6 828.9,1676.1 840.1,1681.3 851.2,1686.7 861.4,1691.8 870.1,1696.2 876.4,1699.3 866.8,1696.6 857.2,1693.8 847.6,1691.0 837.9,1688.2 828.2,1685.6 818.6,1683.2 809.0,1681.0 799.4,1679.0 789.9,1677.1 780.3,1675.3 770.6,1673.5 760.8,1671.6 750.7,1669.7 740.4,1667.7 729.9,1665.8 719.6,1663.9 709.5,1662.1 700.0,1660.5 690.9,1659.1 682.0,1657.8 673.4,1656.6 665.2,1655.5 657.3,1654.5 650.0,1653.4 643.5,1652.4 638.0,1651.4 632.8,1650.4 627.6,1649.5 621.8,1648.5 615.0,1647.5 607.0,1646.5 598.1,1645.4 588.7,1644.3 579.0,1643.2 569.3,1642.2 560.0,1641.2 551.9,1640.4 545.0,1639.7 538.1,1639.1 530.1,1638.5 519.8,1637.7 506.1,1636.7 487.0,1635.4 463.0,1633.8 436.7,1632.0 410.7,1630.3 387.6,1628.9 370.0,1627.8 358.2,1627.2 350.3,1626.9 345.3,1626.8 342.2,1626.9 339.9,1627.0 337.6,1627.0 321.1,1617.2 309.7,1611.2 293.6,1602.6 274.7,1592.6 254.7,1582.2 235.4,1572.4 218.7,1564.3 203.6,1557.6 188.5,1551.4 174.2,1545.8 161.2,1541.0 150.4,1537.0" fill="#dc143c" stroke="none" stroke-width="0" stroke-linejoin="round"/>
<polygon points="142.4,1534.0 150.9,1534.5 162.6,1535.3 176.5,1536.1 191.5,1537.1 206.3,1538.1 220.0,1539.0 232.5,1539.9 244.8,1540.7 257.0,1541.6 269.4,1542.5 282.0,1543.6 295.0,1544.8 308.9,1546.2 323.5,1547.8 338.4,1549.6 353.1,1551.4 367.2,1553.2 380.0,1555.0 391.4,1556.8 395.0,1557.5 399.7,1558.6 406.1,1560.1 413.8,1561.9 422.2,1563.8 431.1,1565.8 440.0,1567.8 449.1,1569.7 458.9,1571.7 469.1,1573.7 479.4,1575.8 489.8,1577.9 500.0,1580.2 510.2,1582.7 520.7,1585.3 531.2,1588.0 541.5,1590.7 551.2,1593.3 560.0,1595.6 567.7,1597.6 574.4,1599.2 580.6,1600.8 586.7,1602.3 593.0,1604.0 600.0,1606.0 607.8,1608.3 615.9,1610.9 624.4,1613.5 633.0,1616.3 641.6,1619.0 650.0,1621.6 658.2,1624.0 666.3,1626.1 674.4,1628.3 682.6,1630.5 691.1,1633.1 700.0,1636.0 709.4,1639.5 719.3,1643.5 729.5,1647.7 739.7,1652.1 750.0,1656.2 760.0,1660.0 770.2,1663.5 780.8,1666.8 791.4,1670.0 801.5,1673.0 810.7,1675.9 818.6,1678.5 825.2,1681.0 830.8,1683.4 835.5,1685.7 839.3,1687.6 842.5,1689.3 845.0,1690.5 837.9,1688.2 828.2,1685.6 818.6,1683.2 809.0,1681.0 799.4,1679.0 789.9,1677.1 780.3,1675.3 770.6,1673.5 760.8,1671.6 750.7,1669.7 740.4,1667.7 729.9,1665.8 719.6,1663.9 709.5,1662.1 700.0,1660.5 690.9,1659.1 682.0,1657.8 673.4,1656.6 665.2,1655.5 657.3,1654.5 650.0,1653.4 643.5,1652.4 638.0,1651.4 632.8,1650.4 627.6,1649.5 621.8,1648.5 615.0,1647.5 607.0,1646.5 598.1,1645.4 588.7,1644.3 579.0,1643.2 569.3,1642.2 560.0,1641.2 551.9,1640.4 545.0,1639.7 538.1,1639.1 530.1,1638.5 519.8,1637.7 506.1,1636.7 487.0,1635.4 463.0,1633.8 436.7,1632.0 410.7,1630.3 387.6,1628.9 370.0,1627.8 358.2,1627.2 350.3,1626.9 345.3,1626.8 342.2,1626.9 339.9,1627.0 337.6,1627.0 321.1,1617.2 309.7,1611.2 293.6,1602.6 274.7,1592.6 254.7,1582.2 235.4,1572.4 218.7,1564.3 203.6,1557.6 188.5,1551.4 174.2,1545.8 161.2,1541.0 150.4,1537.0" fill="#90ee90" stroke="none" stroke-width="0" stroke-linejoin="round"/>
<polygon points="142.4,1534.0 150.9,1534.5 162.6,1535.3 176.5,1536.1 191.5,1537.1 206.3,1538.1 220.0,1539.0 232.5,1539.9 244.8,1540.7 257.0,1541.6 269.4,1542.5 282.0,1543.6 295.0,1544.8 300.0,1545.5 303.0,1545.9 307.0,1546.4 311.9,1547.1 317.4,1547.8 323.5,1548.6 330.0,1549.5 337.1,1550.4 344.8,1551.3 353.1,1552.3 361.9,1553.5 370.9,1554.8 380.0,1556.5 389.4,1558.6 399.3,1561.0 409.4,1563.7 419.6,1566.4 429.9,1569.1 440.0,1571.6 450.0,1573.9 460.0,1576.1 470.0,1578.2 480.0,1580.3 490.0,1582.6 500.0,1585.0 510.2,1587.7 520.7,1590.6 531.2,1593.7 541.5,1596.6 551.2,1599.5 560.0,1602.0 567.7,1604.1 574.4,1605.7 580.6,1607.2 586.7,1608.8 593.0,1610.6 600.0,1613.0 607.8,1616.1 615.9,1619.7 624.4,1623.7 633.0,1627.6 641.6,1631.2 650.0,1634.3 658.3,1636.5 666.5,1638.1 674.7,1639.4 683.0,1640.8 691.4,1642.5 700.0,1645.0 709.5,1648.6 720.0,1653.2 730.6,1658.2 740.6,1663.0 749.0,1667.1 755.0,1670.0 750.7,1669.7 740.4,1667.7 729.9,1665.8 719.6,1663.9 709.5,1662.1 700.0,1660.5 690.9,1659.1 682.0,1657.8 673.4,1656.6 665.2,1655.5 657.3,1654.5 650.0,1653.4 643.5,1652.4 638.0,1651.4 632.8,1650.4 627.6,1649.5 621.8,1648.5 615.0,1647.5 607.0,1646.5 598.1,1645.4 588.7,1644.3 579.0,1643.2 569.3,1642.2 560.0,1641.2 551.9,1640.4 545.0,1639.7 538.1,1639.1 530.1,1638.5 519.8,1637.7 506.1,1636.7 487.0,1635.4 463.0,1633.8 436.7,1632.0 410.7,1630.3 387.6,1628.9 370.0,1627.8 358.2,1627.2 350.3,1626.9 345.3,1626.8 342.2,1626.9 339.9,1627.0 337.6,1627.0 321.1,1617.2 309.7,1611.2 293.6,1602.6 274.7,1592.6 254.7,1582.2 235.4,1572.4 218.7,1564.3 203.6,1557.6 188.5,1551.4 174.2,1545.8 161.2,1541.0 150.4,1537.0" fill="#ff8c00" stroke="none" stroke-width="0" stroke-linejoin="round"/>
<polygon points="142.4,1534.0 150.9,1534.5 162.6,1535.3 176.5,1536.1 191.5,1537.1 206.3,1538.1 220.0,1539.0 232.5,1539.9 244.8,1540.7 257.0,1541.6 269.4,1542.5 282.0,1543.6 295.0,1544.8 302.0,1545.7 304.8,1546.5 308.4,1547.5 312.9,1548.8 318.0,1550.2 323.7,1551.6 330.0,1553.0 336.9,1554.3 344.7,1555.6 353.0,1556.9 361.8,1558.3 370.8,1560.0 380.0,1562.0 389.4,1564.4 399.3,1567.3 409.4,1570.4 419.6,1573.5 429.9,1576.4 440.0,1579.0 450.0,1581.1 460.0,1582.7 470.0,1584.2 480.0,1585.8 490.0,1587.6 500.0,1590.0 510.2,1593.0 520.7,1596.6 531.2,1600.4 541.5,1604.3 551.2,1608.1 560.0,1611.5 567.7,1614.5 574.4,1617.4 580.6,1620.0 586.7,1622.6 593.0,1625.3 600.0,1628.0 607.9,1630.8 616.3,1633.8 625.0,1636.7 633.7,1639.6 642.1,1642.4 650.0,1645.0 657.7,1647.6 665.6,1650.3 673.1,1652.8 680.0,1655.1 685.8,1657.1 690.0,1658.5 682.0,1657.8 673.4,1656.6 665.2,1655.5 657.3,1654.5 650.0,1653.4 643.5,1652.4 638.0,1651.4 632.8,1650.4 627.6,1649.5 621.8,1648.5 615.0,1647.5 607.0,1646.5 598.1,1645.4 588.7,1644.3 579.0,1643.2 569.3,1642.2 560.0,1641.2 551.9,1640.4 545.0,1639.7 538.1,1639.1 530.1,1638.5 519.8,1637.7 506.1,1636.7 487.0,1635.4 463.0,1633.8 436.7,1632.0 410.7,1630.3 387.6,1628.9 370.0,1627.8 358.2,1627.2 350.3,1626.9 345.3,1626.8 342.2,1626.9 339.9,1627.0 337.6,1627.0 321.1,1617.2 309.7,1611.2 293.6,1602.6 274.7,1592.6 254.7,1582.2 235.4,1572.4 218.7,1564.3 203.6,1557.6 188.5,1551.4 174.2,1545.8 161.2,1541.0 150.4,1537.0" fill="#afeeee" stroke="none" stroke-width="0" stroke-linejoin="round"/>
<polygon points="142.4,1534.0 150.9,1534.5 162.6,1535.3 176.5,1536.1 180.0,1537.0 180.4,1537.1 180.3,1537.2 180.4,1537.3 181.8,1537.6 185.4,1538.3 191.9,1539.6 202.6,1541.6 217.0,1544.3 233.6,1547.4 250.6,1550.5 266.6,1553.5 280.0,1556.0 290.5,1558.0 299.5,1559.7 307.4,1561.2 314.7,1562.6 322.1,1564.0 330.0,1565.5 338.2,1566.9 346.3,1568.3 354.4,1569.6 362.6,1571.0 371.1,1572.6 380.0,1574.5 389.4,1576.8 399.0,1579.4 409.0,1582.2 419.2,1585.2 429.5,1588.1 440.0,1591.0 450.8,1593.8 462.0,1596.5 473.4,1599.3 484.7,1602.1 495.7,1605.0 506.1,1608.0 515.8,1611.1 525.0,1614.3 533.9,1617.5 542.6,1620.8 551.3,1624.1 560.0,1627.4 569.4,1630.9 579.4,1634.6 589.4,1638.4 598.6,1641.9 606.4,1644.9 612.0,1647.0 607.0,1646.5 598.1,1645.4 588.7,1644.3 579.0,1643.2 569.3,1642.2 560.0,1641.2 551.9,1640.4 545.0,1639.7 538.1,1639.1 530.1,1638.5 519.8,1637.7 506.1,1636.7 487.0,1635.4 463.0,1633.8 436.7,1632.0 410.7,1630.3 387.6,1628.9 370.0,1627.8 358.2,1627.2 350.3,1626.9 345.3,1626.8 342.2,1626.9 339.9,1627.0 337.6,1627.0 321.1,1617.2 309.7,1611.2 293.6,1602.6 274.7,1592.6 254.7,1582.2 235.4,1572.4 218.7,1564.3 203.6,1557.6 188.5,1551.4 174.2,1545.8 161.2,1541.0 150.4,1537.0" fill="#008080" stroke="none" stroke-width="0" stroke-linejoin="round"/>
<polygon points="218.7,1564.3 225.5,1565.4 235.0,1566.9 246.2,1568.6 258.1,1570.5 269.7,1572.3 280.0,1574.0 289.0,1575.5 297.5,1576.8 305.7,1578.1 313.8,1579.5 321.8,1580.9 330.0,1582.5 338.2,1584.2 346.3,1585.9 354.4,1587.7 362.6,1589.6 371.1,1591.7 380.0,1594.0 389.4,1596.5 399.0,1599.2 409.0,1602.0 419.2,1605.0 429.5,1608.0 440.0,1611.0 451.1,1614.2 463.1,1617.6 475.2,1621.0 486.9,1624.4 497.4,1627.4 506.0,1630.0 512.7,1632.1 518.0,1633.8 522.1,1635.3 525.3,1636.5 527.9,1637.4 530.0,1638.2 519.8,1637.7 506.1,1636.7 487.0,1635.4 463.0,1633.8 436.7,1632.0 410.7,1630.3 387.6,1628.9 370.0,1627.8 358.2,1627.2 350.3,1626.9 345.3,1626.8 342.2,1626.9 339.9,1627.0 337.6,1627.0 321.1,1617.2 309.7,1611.2 293.6,1602.6 274.7,1592.6 254.7,1582.2 235.4,1572.4" fill="#808000" stroke="none" stroke-width="0" stroke-linejoin="round"/>
<polyline points="470.0,1571.5 472.9,1572.0 476.7,1572.7 481.2,1573.5 486.7,1574.5 492.9,1575.8 500.0,1577.3 508.5,1579.2 518.5,1581.5 529.4,1584.0 540.4,1586.7 550.8,1589.2 560.0,1591.5 567.7,1593.5 574.4,1595.4 580.6,1597.2 586.7,1599.0 593.0,1600.9 600.0,1603.0 607.8,1605.4 615.9,1607.9 624.4,1610.6 633.0,1613.2 641.6,1615.7 650.0,1618.0 658.2,1619.8 666.3,1621.2 674.4,1622.4 682.6,1623.8 691.1,1625.6 700.0,1628.0 709.4,1631.2 719.3,1635.1 729.5,1639.4 739.7,1643.8 750.0,1648.1 760.0,1652.0 769.9,1655.4 779.7,1658.6 789.4,1661.6 799.2,1664.6 808.9,1667.9 818.6,1671.6 828.9,1676.1 840.1,1681.3 851.2,1686.7 861.4,1691.8 870.1,1696.2 876.4,1699.3" fill="none" stroke="#000" stroke-width="1.7" stroke-linejoin="round" stroke-linecap="round"/>
<polyline points="395.0,1557.5 399.7,1558.6 406.1,1560.1 413.8,1561.9 422.2,1563.8 431.1,1565.8 440.0,1567.8 449.1,1569.7 458.9,1571.7 469.1,1573.7 479.4,1575.8 489.8,1577.9 500.0,1580.2 510.2,1582.7 520.7,1585.3 531.2,1588.0 541.5,1590.7 551.2,1593.3 560.0,1595.6 567.7,1597.6 574.4,1599.2 580.6,1600.8 586.7,1602.3 593.0,1604.0 600.0,1606.0 607.8,1608.3 615.9,1610.9 624.4,1613.5 633.0,1616.3 641.6,1619.0 650.0,1621.6 658.2,1624.0 666.3,1626.1 674.4,1628.3 682.6,1630.5 691.1,1633.1 700.0,1636.0 709.4,1639.5 719.3,1643.5 729.5,1647.7 739.7,1652.1 750.0,1656.2 760.0,1660.0 770.2,1663.5 780.8,1666.8 791.4,1670.0 801.5,1673.0 810.7,1675.9 818.6,1678.5 825.2,1681.0 830.8,1683.4 835.5,1685.7 839.3,1687.6 842.5,1689.3 845.0,1690.5" fill="none" stroke="#000" stroke-width="1.7" stroke-linejoin="round" stroke-linecap="round"/>
<polyline points="300.0,1545.5 303.0,1545.9 307.0,1546.4 311.9,1547.1 317.4,1547.8 323.5,1548.6 330.0,1549.5 337.1,1550.4 344.8,1551.3 353.1,1552.3 361.9,1553.5 370.9,1554.8 380.0,1556.5 389.4,1558.6 399.3,1561.0 409.4,1563.7 419.6,1566.4 429.9,1569.1 440.0,1571.6 450.0,1573.9 460.0,1576.1 470.0,1578.2 480.0,1580.3 490.0,1582.6 500.0,1585.0 510.2,1587.7 520.7,1590.6 531.2,1593.7 541.5,1596.6 551.2,1599.5 560.0,1602.0 567.7,1604.1 574.4,1605.7 580.6,1607.2 586.7,1608.8 593.0,1610.6 600.0,1613.0 607.8,1616.1 615.9,1619.7 624.4,1623.7 633.0,1627.6 641.6,1631.2 650.0,1634.3 658.3,1636.5 666.5,1638.1 674.7,1639.4 683.0,1640.8 691.4,1642.5 700.0,1645.0 709.5,1648.6 720.0,1653.2 730.6,1658.2 740.6,1663.0 749.0,1667.1 755.0,1670.0" fill="none" stroke="#000" stroke-width="1.7" stroke-linejoin="round" stroke-linecap="round"/>
<polyline points="302.0,1545.7 304.8,1546.5 308.4,1547.5 312.9,1548.8 318.0,1550.2 323.7,1551.6 330.0,1553.0 336.9,1554.3 344.7,1555.6 353.0,1556.9 361.8,1558.3 370.8,1560.0 380.0,1562.0 389.4,1564.4 399.3,1567.3 409.4,1570.4 419.6,1573.5 429.9,1576.4 440.0,1579.0 450.0,1581.1 460.0,1582.7 470.0,1584.2 480.0,1585.8 490.0,1587.6 500.0,1590.0 510.2,1593.0 520.7,1596.6 531.2,1600.4 541.5,1604.3 551.2,1608.1 560.0,1611.5 567.7,1614.5 574.4,1617.4 580.6,1620.0 586.7,1622.6 593.0,1625.3 600.0,1628.0 607.9,1630.8 616.3,1633.8 625.0,1636.7 633.7,1639.6 642.1,1642.4 650.0,1645.0 657.7,1647.6 665.6,1650.3 673.1,1652.8 680.0,1655.1 685.8,1657.1 690.0,1658.5" fill="none" stroke="#000" stroke-width="1.7" stroke-linejoin="round" stroke-linecap="round"/>
<polyline points="180.0,1537.0 180.4,1537.1 180.3,1537.2 180.4,1537.3 181.8,1537.6 185.4,1538.3 191.9,1539.6 202.6,1541.6 217.0,1544.3 233.6,1547.4 250.6,1550.5 266.6,1553.5 280.0,1556.0 290.5,1558.0 299.5,1559.7 307.4,1561.2 314.7,1562.6 322.1,1564.0 330.0,1565.5 338.2,1566.9 346.3,1568.3 354.4,1569.6 362.6,1571.0 371.1,1572.6 380.0,1574.5 389.4,1576.8 399.0,1579.4 409.0,1582.2 419.2,1585.2 429.5,1588.1 440.0,1591.0 450.8,1593.8 462.0,1596.5 473.4,1599.3 484.7,1602.1 495.7,1605.0 506.1,1608.0 515.8,1611.1 525.0,1614.3 533.9,1617.5 542.6,1620.8 551.3,1624.1 560.0,1627.4 569.4,1630.9 579.4,1634.6 589.4,1638.4 598.6,1641.9 606.4,1644.9 612.0,1647.0" fill="none" stroke="#000" stroke-width="1.7" stroke-linejoin="round" stroke-linecap="round"/>
<polyline points="218.7,1564.3 225.5,1565.4 235.0,1566.9 246.2,1568.6 258.1,1570.5 269.7,1572.3 280.0,1574.0 289.0,1575.5 297.5,1576.8 305.7,1578.1 313.8,1579.5 321.8,1580.9 330.0,1582.5 338.2,1584.2 346.3,1585.9 354.4,1587.7 362.6,1589.6 371.1,1591.7 380.0,1594.0 389.4,1596.5 399.0,1599.2 409.0,1602.0 419.2,1605.0 429.5,1608.0 440.0,1611.0 451.1,1614.2 463.1,1617.6 475.2,1621.0 486.9,1624.4 497.4,1627.4 506.0,1630.0 512.7,1632.1 518.0,1633.8 522.1,1635.3 525.3,1636.5 527.9,1637.4 530.0,1638.2" fill="none" stroke="#000" stroke-width="1.7" stroke-linejoin="round" stroke-linecap="round"/>
<polygon points="706.7,1635.3 734.5,1640.0 734.5,1644.7 706.7,1641.0" fill="#c80000" stroke="none" stroke-width="0" stroke-linejoin="round"/>
<polyline points="734.5,1638.5 746.0,1640.0 758.0,1643.0 771.0,1646.5" fill="none" stroke="#111" stroke-width="3.2" stroke-linejoin="round" stroke-linecap="round"/>
<polygon points="635.0,1617.0 673.0,1626.0 673.0,1634.3 635.0,1625.0" fill="#ccfccc" stroke="none" stroke-width="0" stroke-linejoin="round"/>
<text x="732.16" y="1647.50" font-size="20.77" font-weight="normal" fill="#000" textLength="40.65" lengthAdjust="spacingAndGlyphs" stroke="#000" stroke-width="0.75">57.0</text>
<circle cx="754.3" cy="1637" r="2.6" fill="#fff" stroke="#000" stroke-width="1.6"/>
<circle cx="766.6" cy="1643.4" r="2.8" fill="#fff" stroke="#000" stroke-width="1.6"/>
<polygon points="142.4,1534.0 150.9,1534.5 162.6,1535.3 176.5,1536.1 191.5,1537.1 206.3,1538.1 220.0,1539.0 232.5,1539.9 244.8,1540.7 257.0,1541.6 269.4,1542.5 282.0,1543.6 295.0,1544.8 308.9,1546.2 323.5,1547.8 338.4,1549.6 353.1,1551.4 367.2,1553.2 380.0,1555.0 391.4,1556.8 401.9,1558.7 411.6,1560.5 420.9,1562.4 430.3,1564.2 440.0,1566.0 450.0,1567.7 460.0,1569.2 470.0,1570.7 480.0,1572.3 490.0,1573.9 500.0,1575.8 510.2,1577.9 520.7,1580.3 531.2,1582.8 541.4,1585.3 551.1,1587.8 560.0,1590.0 567.9,1592.1 574.9,1594.0 581.4,1595.9 587.8,1597.7 594.3,1599.5 601.4,1601.3 609.1,1603.1 617.0,1604.9 625.2,1606.6 633.4,1608.4 641.7,1610.2 650.0,1612.0 658.3,1613.8 666.6,1615.7 675.0,1617.6 683.3,1619.5 691.7,1621.5 700.0,1623.5 708.0,1625.5 715.7,1627.4 723.4,1629.4 731.4,1631.5 739.9,1634.0 749.3,1637.0 759.7,1640.5 770.9,1644.4 782.7,1648.7 794.8,1653.2 806.8,1657.8 818.6,1662.4 830.4,1667.2 842.6,1672.3 854.8,1677.5 866.6,1682.7 877.8,1687.7 887.9,1692.4 897.3,1696.9 906.4,1701.5 914.8,1705.8 922.2,1709.8 928.4,1713.1 933.0,1715.5 926.9,1713.7 918.4,1711.3 908.3,1708.4 897.5,1705.3 886.6,1702.2 876.4,1699.3 866.8,1696.6 857.2,1693.8 847.6,1691.0 837.9,1688.2 828.2,1685.6 818.6,1683.2 809.0,1681.0 799.4,1679.0 789.9,1677.1 780.3,1675.3 770.6,1673.5 760.8,1671.6 750.7,1669.7 740.4,1667.7 729.9,1665.8 719.6,1663.9 709.5,1662.1 700.0,1660.5 690.9,1659.1 682.0,1657.8 673.4,1656.6 665.2,1655.5 657.3,1654.5 650.0,1653.4 643.5,1652.4 638.0,1651.4 632.8,1650.4 627.6,1649.5 621.8,1648.5 615.0,1647.5 607.0,1646.5 598.1,1645.4 588.7,1644.3 579.0,1643.2 569.3,1642.2 560.0,1641.2 551.9,1640.4 545.0,1639.7 538.1,1639.1 530.1,1638.5 519.8,1637.7 506.1,1636.7 487.0,1635.4 463.0,1633.8 436.7,1632.0 410.7,1630.3 387.6,1628.9 370.0,1627.8 358.2,1627.2 350.3,1626.9 345.3,1626.8 342.2,1626.9 339.9,1627.0 337.6,1627.0 321.1,1617.2 309.7,1611.2 293.6,1602.6 274.7,1592.6 254.7,1582.2 235.4,1572.4 218.7,1564.3 203.6,1557.6 188.5,1551.4 174.2,1545.8 161.2,1541.0 150.4,1537.0" fill="none" stroke="#000" stroke-width="2.2" stroke-linejoin="round"/>
<polygon points="388.0,1568.0 418.0,1574.5 418.0,1583.0 388.0,1576.5" fill="#c8ffff" stroke="none" stroke-width="0" stroke-linejoin="round"/>
<text x="343.15" y="1587.50" font-size="20.34" font-weight="normal" fill="#fff" textLength="39.85" lengthAdjust="spacingAndGlyphs" stroke="#fff" stroke-width="0.75">72.0</text>
<text x="334.95" y="1621.50" font-size="20.34" font-weight="normal" fill="#fff" textLength="39.85" lengthAdjust="spacingAndGlyphs" stroke="#fff" stroke-width="0.75">75.0</text>
<text x="485.94" y="1604.00" font-size="18.33" font-weight="normal" fill="#000" textLength="40.57" lengthAdjust="spacingAndGlyphs" stroke="#000" stroke-width="0.75">66.0</text>
<text x="570.56" y="1614.30" font-size="20.05" font-weight="normal" fill="#fff" textLength="39.94" lengthAdjust="spacingAndGlyphs" stroke="#fff" stroke-width="0.75">63.0</text>
<line x1="118.7" y1="1421.5" x2="324.6" y2="1562.0" stroke="#000" stroke-width="1.6"/>
<line x1="118.8" y1="1692.5" x2="325.0" y2="1833.0" stroke="#000" stroke-width="1.6"/>
<line x1="325.0" y1="1833.0" x2="955.7" y2="1787.0" stroke="#000" stroke-width="1.6"/>
<line x1="324.6" y1="1562.0" x2="325.0" y2="1833.0" stroke="#000" stroke-width="2"/>
<path d="M127.3 1427.4l8.0 -0.6M135.9 1433.2l8.0 -0.6M144.4 1439.1l8.0 -0.6M153.0 1444.9l14.4 -1.0M161.6 1450.8l8.0 -0.6M170.2 1456.6l8.0 -0.6M178.8 1462.5l8.0 -0.6M187.3 1468.3l14.4 -1.0M195.9 1474.2l8.0 -0.6M204.5 1480.0l8.0 -0.6M213.1 1485.9l8.0 -0.6M221.7 1491.8l14.4 -1.0M230.2 1497.6l8.0 -0.6M238.8 1503.5l8.0 -0.6M247.4 1509.3l8.0 -0.6M256.0 1515.2l14.4 -1.0M264.5 1521.0l8.0 -0.6M273.1 1526.9l8.0 -0.6M281.7 1532.7l8.0 -0.6M290.3 1538.6l14.4 -1.0M298.9 1544.4l8.0 -0.6M307.4 1550.3l8.0 -0.6M316.0 1556.1l8.0 -0.6" stroke="#000" stroke-width="1.3" fill="none"/>
<path d="M127.4 1698.4l8.0 -0.6M136.0 1704.2l8.0 -0.6M144.6 1710.1l8.0 -0.6M153.2 1715.9l14.4 -1.0M161.8 1721.8l8.0 -0.6M170.3 1727.6l8.0 -0.6M178.9 1733.5l8.0 -0.6M187.5 1739.3l14.4 -1.0M196.1 1745.2l8.0 -0.6M204.7 1751.0l8.0 -0.6M213.3 1756.9l8.0 -0.6M221.9 1762.8l14.4 -1.0M230.5 1768.6l8.0 -0.6M239.1 1774.5l8.0 -0.6M247.7 1780.3l8.0 -0.6M256.3 1786.2l14.4 -1.0M264.9 1792.0l8.0 -0.6M273.4 1797.9l8.0 -0.6M282.0 1803.7l8.0 -0.6M290.6 1809.6l14.4 -1.0M299.2 1815.4l8.0 -0.6M307.8 1821.3l8.0 -0.6M316.4 1827.1l8.0 -0.6" stroke="#000" stroke-width="1.3" fill="none"/>
<path d="M364.4 1830.1l-4.0 -2.7M403.8 1827.2l-4.0 -2.7M443.3 1824.4l-4.0 -2.7M482.7 1821.5l-7.9 -5.4M522.1 1818.6l-4.0 -2.7M561.5 1815.8l-4.0 -2.7M600.9 1812.9l-4.0 -2.7M640.4 1810.0l-7.9 -5.4M679.8 1807.1l-4.0 -2.7M719.2 1804.2l-4.0 -2.7M758.6 1801.4l-4.0 -2.7M798.0 1798.5l-7.9 -5.4M837.4 1795.6l-4.0 -2.7M876.9 1792.8l-4.0 -2.7M916.3 1789.9l-4.0 -2.7" stroke="#000" stroke-width="1.3" fill="none"/>
<path d="M324.6 1575.5l-3.3 -2.3M324.6 1589.1l-3.3 -2.3M324.7 1602.7l-3.3 -2.3M324.7 1616.2l-3.3 -2.3M324.7 1629.8l-6.6 -4.5M324.7 1643.3l-3.3 -2.3M324.7 1656.8l-3.3 -2.3M324.8 1670.4l-3.3 -2.3M324.8 1684.0l-3.3 -2.3M324.8 1697.5l-6.6 -4.5M324.8 1711.0l-3.3 -2.3M324.8 1724.6l-3.3 -2.3M324.9 1738.2l-3.3 -2.3M324.9 1751.7l-3.3 -2.3M324.9 1765.2l-6.6 -4.5M324.9 1778.8l-3.3 -2.3M324.9 1792.3l-3.3 -2.3M325.0 1805.9l-3.3 -2.3M325.0 1819.5l-3.3 -2.3" stroke="#000" stroke-width="1.3" fill="none"/>
<text x="531.90" y="1322.10" font-size="26.45" font-weight="bold" fill="#000" textLength="239.04" lengthAdjust="spacingAndGlyphs" stroke="#000" stroke-width="0.60">Temperature 50 °C</text>
<text x="212.64" y="1385.72" font-size="28.25" font-weight="normal" fill="#000" textLength="19.39" lengthAdjust="spacingAndGlyphs" stroke="#000" stroke-width="0.75">C</text>
<text x="85.70" y="1434.57" font-size="23.73" font-weight="bold" fill="#000" textLength="31.38" lengthAdjust="spacingAndGlyphs" stroke="#000" stroke-width="0.60">85</text>
<text x="85.37" y="1497.76" font-size="24.08" font-weight="bold" fill="#000" textLength="31.72" lengthAdjust="spacingAndGlyphs" stroke="#000" stroke-width="0.60">75</text>
<text x="85.56" y="1561.17" font-size="23.73" font-weight="bold" fill="#000" textLength="31.53" lengthAdjust="spacingAndGlyphs" stroke="#000" stroke-width="0.60">65</text>
<text x="85.73" y="1624.76" font-size="24.08" font-weight="bold" fill="#000" textLength="31.35" lengthAdjust="spacingAndGlyphs" stroke="#000" stroke-width="0.60">55</text>
<text x="86.18" y="1688.36" font-size="24.08" font-weight="bold" fill="#000" textLength="30.89" lengthAdjust="spacingAndGlyphs" stroke="#000" stroke-width="0.60">45</text>
<text x="68.19" y="1730.77" font-size="24.01" font-weight="bold" fill="#000" textLength="31.99" lengthAdjust="spacingAndGlyphs" stroke="#000" stroke-width="0.60">10</text>
<text x="99.39" y="1752.46" font-size="24.01" font-weight="bold" fill="#000" textLength="31.96" lengthAdjust="spacingAndGlyphs" stroke="#000" stroke-width="0.60">12</text>
<text x="131.25" y="1774.76" font-size="24.36" font-weight="bold" fill="#000" textLength="30.90" lengthAdjust="spacingAndGlyphs" stroke="#000" stroke-width="0.60">14</text>
<text x="163.20" y="1796.77" font-size="24.01" font-weight="bold" fill="#000" textLength="31.84" lengthAdjust="spacingAndGlyphs" stroke="#000" stroke-width="0.60">16</text>
<text x="195.31" y="1818.87" font-size="24.01" font-weight="bold" fill="#000" textLength="31.67" lengthAdjust="spacingAndGlyphs" stroke="#000" stroke-width="0.60">18</text>
<text x="229.43" y="1841.17" font-size="24.01" font-weight="bold" fill="#000" textLength="31.12" lengthAdjust="spacingAndGlyphs" stroke="#000" stroke-width="0.60">20</text>
<text x="261.23" y="1863.36" font-size="24.01" font-weight="bold" fill="#000" textLength="31.09" lengthAdjust="spacingAndGlyphs" stroke="#000" stroke-width="0.60">22</text>
<text x="354.70" y="1858.07" font-size="24.01" font-weight="bold" fill="#000" textLength="31.51" lengthAdjust="spacingAndGlyphs" stroke="#000" stroke-width="0.60">30</text>
<text x="503.19" y="1846.87" font-size="24.01" font-weight="bold" fill="#000" textLength="31.11" lengthAdjust="spacingAndGlyphs" stroke="#000" stroke-width="0.60">50</text>
<text x="653.18" y="1835.97" font-size="24.01" font-weight="bold" fill="#000" textLength="32.77" lengthAdjust="spacingAndGlyphs" stroke="#000" stroke-width="0.60">70</text>
<text x="801.98" y="1824.47" font-size="24.01" font-weight="bold" fill="#000" textLength="32.62" lengthAdjust="spacingAndGlyphs" stroke="#000" stroke-width="0.60">90</text>
<text x="950.04" y="1813.47" font-size="24.01" font-weight="bold" fill="#000" textLength="47.88" lengthAdjust="spacingAndGlyphs" stroke="#000" stroke-width="0.60">110</text>
<text x="13.73" y="1830.95" font-size="24.35" font-weight="bold" fill="#000" textLength="142.31" lengthAdjust="spacingAndGlyphs" stroke="#000" stroke-width="0.60">Activity (U)</text>
<text x="487.68" y="1888.61" font-size="24.03" font-weight="bold" fill="#000" textLength="357.17" lengthAdjust="spacingAndGlyphs" stroke="#000" stroke-width="0.60">Concentration of HMF (mM)</text>
<text x="0" y="0" stroke="#000" stroke-width="0.60" font-size="29.18" font-weight="bold" fill="#000" textLength="183.88" lengthAdjust="spacingAndGlyphs" transform="translate(47.54 1638.63) rotate(-90)">Conversion (%)</text>
<rect x="984.2" y="1385.1" width="203.1" height="324.4" fill="#fff" stroke="#000" stroke-width="2"/>
<text x="993.20" y="1409.60" font-size="24.86" font-weight="bold" fill="#000" textLength="147.05" lengthAdjust="spacingAndGlyphs" stroke="#000" stroke-width="0.60">Conversion</text>
<rect x="993.9" y="1424.3" width="50.0" height="15.8" fill="#c0c0c0"/>
<rect x="993.9" y="1454.0" width="50.0" height="15.8" fill="#6495ed"/>
<rect x="993.9" y="1483.4" width="50.0" height="15.8" fill="#dc143c"/>
<rect x="993.9" y="1511.0" width="50.0" height="15.8" fill="#90ee90"/>
<rect x="993.9" y="1541.3" width="50.0" height="15.8" fill="#ff8c00"/>
<rect x="993.9" y="1571.3" width="50.0" height="15.8" fill="#afeeee"/>
<rect x="993.9" y="1599.2" width="50.0" height="15.8" fill="#008080"/>
<rect x="993.9" y="1628.3" width="50.0" height="15.8" fill="#808000"/>
<rect x="993.9" y="1658.0" width="50.0" height="15.8" fill="#f0e68c"/>
<rect x="993.9" y="1686.2" width="50.0" height="15.8" fill="#4682b4"/>
<text x="1067.03" y="1448.50" font-size="23.63" font-weight="bold" fill="#000" textLength="105.10" lengthAdjust="spacingAndGlyphs" stroke="#000" stroke-width="0.60">54.0-56.4</text>
<text x="1067.03" y="1479.40" font-size="23.63" font-weight="bold" fill="#000" textLength="105.74" lengthAdjust="spacingAndGlyphs" stroke="#000" stroke-width="0.60">56.4-58.8</text>
<text x="1067.03" y="1510.10" font-size="23.77" font-weight="bold" fill="#000" textLength="105.98" lengthAdjust="spacingAndGlyphs" stroke="#000" stroke-width="0.60">58.8-61.2</text>
<text x="1066.88" y="1539.50" font-size="21.91" font-weight="bold" fill="#000" textLength="106.15" lengthAdjust="spacingAndGlyphs" stroke="#000" stroke-width="0.60">63.6-66.0</text>
<text x="1066.89" y="1569.80" font-size="22.34" font-weight="bold" fill="#000" textLength="105.25" lengthAdjust="spacingAndGlyphs" stroke="#000" stroke-width="0.60">66.0-68.4</text>
<text x="1066.88" y="1600.70" font-size="21.91" font-weight="bold" fill="#000" textLength="105.89" lengthAdjust="spacingAndGlyphs" stroke="#000" stroke-width="0.60">68.4-70.8</text>
<text x="1066.72" y="1631.00" font-size="23.20" font-weight="bold" fill="#000" textLength="106.29" lengthAdjust="spacingAndGlyphs" stroke="#000" stroke-width="0.60">70.8-73.2</text>
<text x="1066.72" y="1661.70" font-size="22.34" font-weight="bold" fill="#000" textLength="106.19" lengthAdjust="spacingAndGlyphs" stroke="#000" stroke-width="0.60">73.2-75.6</text>
<text x="1066.72" y="1692.00" font-size="22.91" font-weight="bold" fill="#000" textLength="106.31" lengthAdjust="spacingAndGlyphs" stroke="#000" stroke-width="0.60">75.6-78.0</text>
</svg>
</body></html>
